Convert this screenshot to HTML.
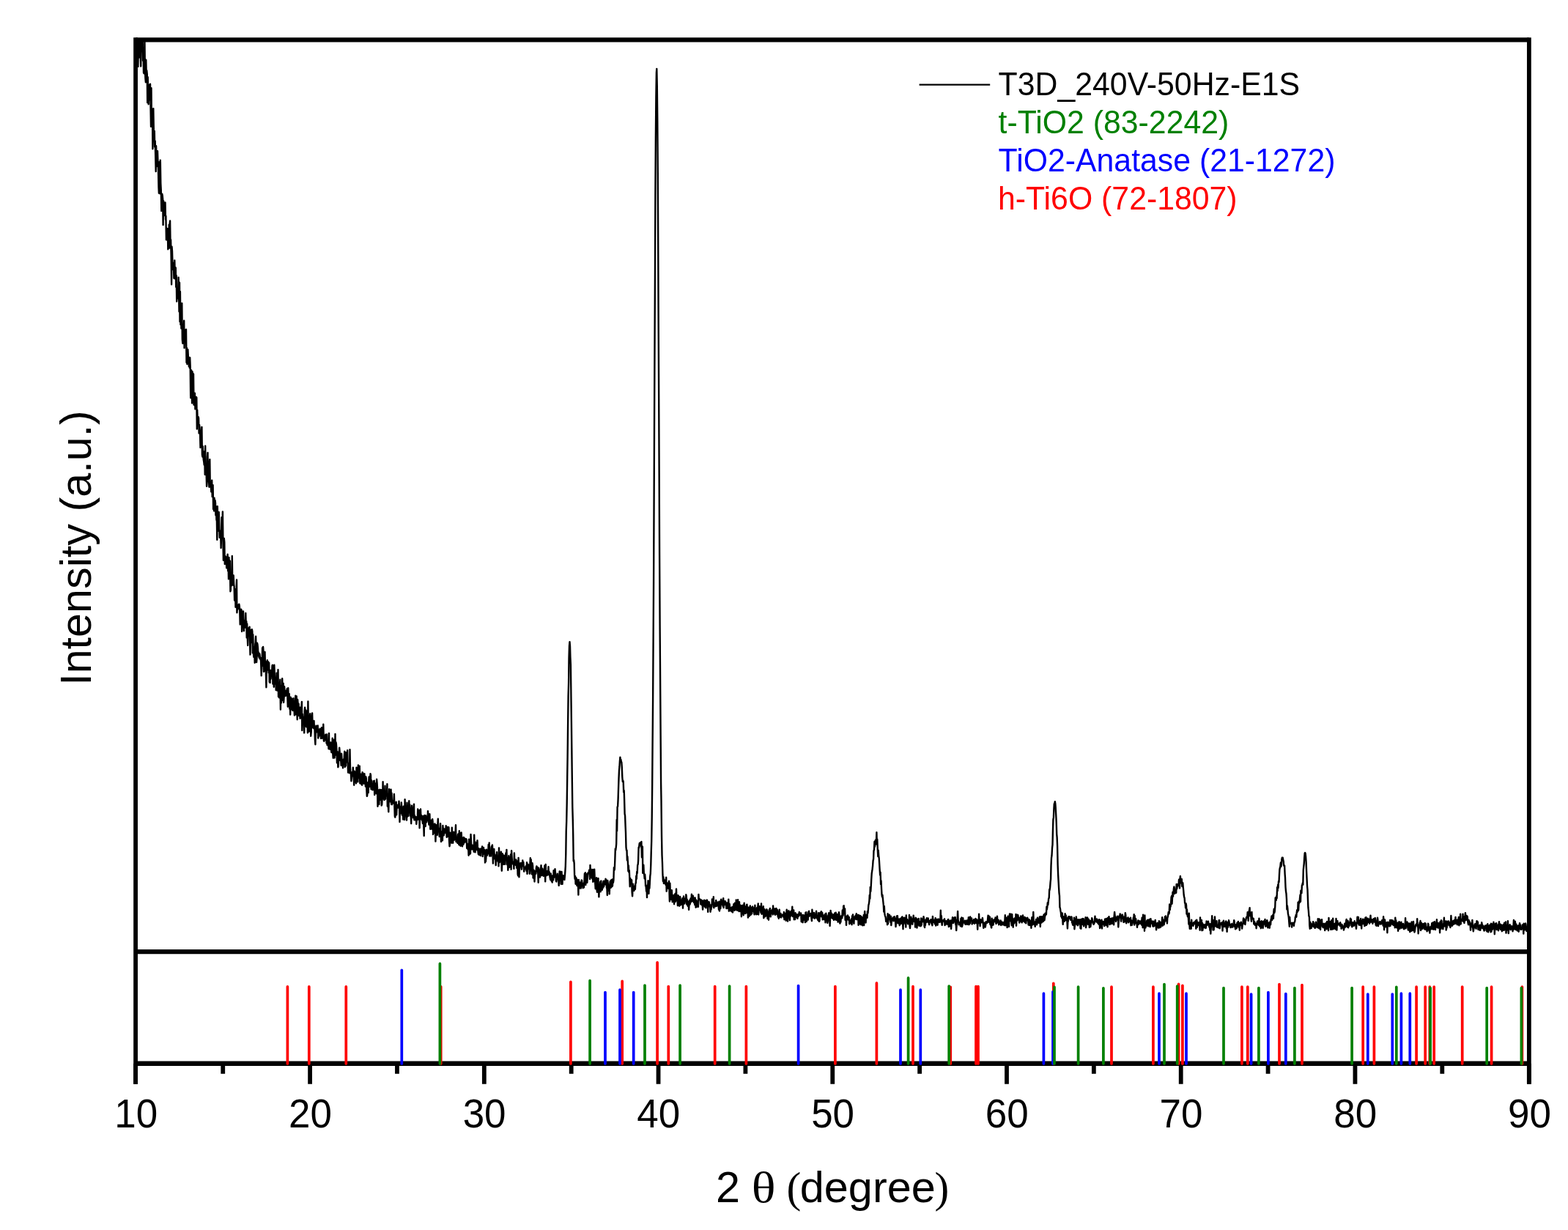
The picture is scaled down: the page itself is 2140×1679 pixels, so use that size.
<!DOCTYPE html>
<html><head><meta charset="utf-8"><title>XRD pattern</title>
<style>
html,body{margin:0;padding:0;background:#fff}
body{width:2140px;height:1679px;overflow:hidden}
svg{display:block}
text{font-family:"Liberation Sans",Arial,Helvetica,sans-serif;fill:#000}
.ser{font-family:"Liberation Serif","Times New Roman",serif}
</style></head><body>
<svg width="2140" height="1679" viewBox="0 0 2140 1679">
<rect width="2140" height="1679" fill="#fff"/>
<defs><clipPath id="cp"><rect x="185.08" y="54.45" width="1901.7800000000002" height="1244.6"/></clipPath></defs>
<g clip-path="url(#cp)"><polyline points="185.1,52.3 185.6,60.0 186.0,50.1 186.5,39.4 187.0,49.9 187.5,40.7 187.9,63.5 188.4,90.9 188.9,55.7 189.4,54.7 189.8,78.6 190.3,77.5 190.8,74.0 191.3,54.8 191.7,74.5 192.2,90.6 192.7,51.4 193.2,70.7 193.6,43.4 194.1,57.4 194.6,48.3 195.1,82.7 195.5,65.0 196.0,99.0 196.5,100.2 197.0,96.7 197.4,53.4 197.9,95.1 198.4,107.0 198.9,112.3 199.3,81.8 199.8,104.4 200.3,96.3 200.8,101.4 201.2,140.0 201.7,105.1 202.2,122.2 202.7,142.2 203.1,115.6 203.6,127.2 204.1,134.1 204.6,136.2 205.0,114.6 205.5,143.8 206.0,172.7 206.5,120.3 207.0,170.9 207.4,160.3 207.9,149.0 208.4,203.3 208.9,182.6 209.3,148.1 209.8,176.1 210.3,189.5 210.8,179.0 211.2,200.6 211.7,192.5 212.2,213.1 212.7,234.0 213.1,199.3 213.6,220.4 214.1,212.0 214.6,227.0 215.0,206.1 215.5,221.1 216.0,231.9 216.5,255.8 216.9,263.8 217.4,221.2 217.9,234.4 218.4,264.3 218.8,218.6 219.3,250.0 219.8,259.9 220.3,287.9 220.7,280.4 221.2,264.6 221.7,266.7 222.2,271.7 222.6,307.0 223.1,274.1 223.6,279.3 224.1,294.1 224.5,288.4 225.0,290.1 225.5,276.5 226.0,299.7 226.4,295.0 226.9,327.3 227.4,321.1 227.9,312.0 228.3,327.5 228.8,312.3 229.3,340.2 229.8,324.0 230.2,337.3 230.7,306.6 231.2,338.5 231.7,305.0 232.1,301.5 232.6,335.0 233.1,327.2 233.6,348.8 234.1,388.3 234.5,336.6 235.0,342.9 235.5,360.2 236.0,367.9 236.4,358.8 236.9,361.1 237.4,379.8 237.9,379.5 238.3,355.5 238.8,375.4 239.3,380.8 239.8,365.4 240.2,391.8 240.7,376.1 241.2,411.5 241.7,401.7 242.1,403.7 242.6,395.6 243.1,407.3 243.6,378.6 244.0,396.7 244.5,425.2 245.0,385.8 245.5,439.1 245.9,397.9 246.4,442.9 246.9,418.3 247.4,448.2 247.8,439.6 248.3,414.0 248.8,463.1 249.3,468.7 249.7,445.7 250.2,444.6 250.7,449.0 251.2,437.8 251.6,474.9 252.1,450.2 252.6,461.1 253.1,451.6 253.5,457.3 254.0,449.6 254.5,494.8 255.0,475.0 255.4,497.0 255.9,485.1 256.4,477.3 256.9,487.1 257.3,487.1 257.8,500.1 258.3,497.5 258.8,502.2 259.2,488.1 259.7,500.5 260.2,543.0 260.7,508.6 261.2,505.4 261.6,530.5 262.1,550.3 262.6,507.4 263.1,529.8 263.5,525.8 264.0,510.5 264.5,552.6 265.0,543.2 265.4,547.2 265.9,536.8 266.4,558.4 266.9,545.4 267.3,554.3 267.8,541.9 268.3,542.9 268.8,585.5 269.2,559.6 269.7,574.8 270.2,572.6 270.7,569.1 271.1,571.0 271.6,591.4 272.1,579.9 272.6,585.0 273.0,590.5 273.5,610.9 274.0,606.1 274.5,604.3 274.9,592.6 275.4,582.9 275.9,620.8 276.4,623.5 276.8,609.3 277.3,621.9 277.8,627.9 278.3,630.9 278.7,634.5 279.2,616.1 279.7,647.7 280.2,608.7 280.6,642.3 281.1,639.0 281.6,646.8 282.1,663.9 282.5,660.2 283.0,623.6 283.5,617.9 284.0,657.2 284.4,632.7 284.9,649.8 285.4,664.8 285.9,631.2 286.3,627.1 286.8,664.6 287.3,664.6 287.8,663.8 288.3,671.3 288.7,661.7 289.2,655.6 289.7,678.0 290.2,669.3 290.6,662.2 291.1,695.0 291.6,689.0 292.1,697.5 292.5,679.6 293.0,686.0 293.5,682.9 294.0,686.3 294.4,703.3 294.9,691.4 295.4,709.4 295.9,711.2 296.3,736.8 296.8,691.1 297.3,725.0 297.8,713.6 298.2,716.8 298.7,699.0 299.2,714.9 299.7,733.8 300.1,724.5 300.6,729.0 301.1,726.0 301.6,748.0 302.0,734.0 302.5,706.3 303.0,729.1 303.5,713.7 303.9,698.4 304.4,737.4 304.9,764.7 305.4,749.4 305.8,734.9 306.3,740.1 306.8,770.0 307.3,758.9 307.7,759.4 308.2,760.1 308.7,763.3 309.2,775.4 309.6,774.0 310.1,771.4 310.6,756.6 311.1,779.1 311.5,765.1 312.0,790.4 312.5,761.0 313.0,777.7 313.5,781.1 313.9,765.6 314.4,807.2 314.9,805.4 315.4,781.9 315.8,799.7 316.3,796.2 316.8,759.0 317.3,797.7 317.7,795.3 318.2,798.8 318.7,785.5 319.2,797.5 319.6,800.3 320.1,819.5 320.6,810.2 321.1,807.5 321.5,828.8 322.0,804.0 322.5,807.8 323.0,791.5 323.4,836.3 323.9,830.5 324.4,831.8 324.9,830.6 325.3,825.4 325.8,828.7 326.3,824.7 326.8,827.3 327.2,832.4 327.7,852.4 328.2,842.3 328.7,836.5 329.1,831.8 329.6,832.8 330.1,862.0 330.6,850.0 331.0,846.1 331.5,842.4 332.0,834.4 332.5,848.4 332.9,861.2 333.4,847.0 333.9,850.2 334.4,851.4 334.8,856.6 335.3,837.0 335.8,854.6 336.3,848.2 336.7,870.4 337.2,851.4 337.7,868.7 338.2,881.1 338.6,860.0 339.1,857.5 339.6,868.0 340.1,866.6 340.6,855.7 341.0,874.1 341.5,893.6 342.0,867.3 342.5,868.9 342.9,859.8 343.4,877.0 343.9,859.3 344.4,861.9 344.8,891.2 345.3,866.2 345.8,890.7 346.3,896.9 346.7,882.9 347.2,887.3 347.7,904.8 348.2,880.4 348.6,876.7 349.1,868.8 349.6,886.2 350.1,904.1 350.5,899.0 351.0,877.7 351.5,879.8 352.0,884.9 352.4,895.2 352.9,890.5 353.4,896.4 353.9,898.3 354.3,892.4 354.8,896.4 355.3,900.2 355.8,897.8 356.2,905.6 356.7,922.4 357.2,908.5 357.7,903.3 358.1,884.1 358.6,908.9 359.1,883.0 359.6,890.0 360.0,916.8 360.5,916.0 361.0,907.0 361.5,889.9 361.9,906.0 362.4,903.3 362.9,919.0 363.4,938.2 363.8,915.6 364.3,905.0 364.8,901.3 365.3,914.6 365.7,913.9 366.2,903.5 366.7,918.5 367.2,904.8 367.7,931.0 368.1,931.1 368.6,931.9 369.1,915.0 369.6,926.7 370.0,920.1 370.5,917.8 371.0,919.0 371.5,908.8 371.9,907.8 372.4,933.5 372.9,923.1 373.4,928.3 373.8,937.8 374.3,907.8 374.8,919.1 375.3,930.5 375.7,933.6 376.2,925.7 376.7,942.1 377.2,933.7 377.6,918.6 378.1,922.5 378.6,942.6 379.1,939.5 379.5,914.2 380.0,950.9 380.5,943.4 381.0,952.4 381.4,934.2 381.9,935.9 382.4,927.6 382.9,968.6 383.3,939.6 383.8,959.6 384.3,935.9 384.8,945.5 385.2,926.2 385.7,940.9 386.2,956.5 386.7,932.9 387.1,958.9 387.6,951.6 388.1,937.2 388.6,943.8 389.0,944.9 389.5,950.1 390.0,945.5 390.5,943.0 390.9,949.3 391.4,942.1 391.9,940.0 392.4,954.0 392.8,964.7 393.3,939.3 393.8,956.4 394.3,950.1 394.8,947.2 395.2,967.4 395.7,953.3 396.2,975.5 396.7,951.7 397.1,964.8 397.6,958.8 398.1,953.8 398.6,968.7 399.0,961.3 399.5,970.0 400.0,963.6 400.5,953.1 400.9,964.1 401.4,966.3 401.9,976.5 402.4,957.3 402.8,967.0 403.3,949.7 403.8,975.3 404.3,957.6 404.7,950.4 405.2,969.4 405.7,982.2 406.2,955.0 406.6,960.1 407.1,964.3 407.6,960.7 408.1,977.1 408.5,965.1 409.0,966.5 409.5,980.7 410.0,967.2 410.4,980.1 410.9,966.0 411.4,964.0 411.9,958.0 412.3,997.0 412.8,974.8 413.3,981.2 413.8,978.8 414.2,981.3 414.7,980.7 415.2,1000.4 415.7,970.4 416.1,965.6 416.6,971.7 417.1,968.9 417.6,991.0 418.0,992.2 418.5,974.4 419.0,970.5 419.5,981.7 419.9,1000.2 420.4,957.4 420.9,992.3 421.4,976.4 421.9,998.6 422.3,977.4 422.8,986.1 423.3,974.1 423.8,980.1 424.2,1004.7 424.7,999.5 425.2,987.5 425.7,983.3 426.1,973.4 426.6,989.2 427.1,993.4 427.6,993.4 428.0,993.8 428.5,983.9 429.0,995.1 429.5,995.9 429.9,1009.9 430.4,1016.2 430.9,996.5 431.4,990.7 431.8,998.3 432.3,993.3 432.8,992.5 433.3,999.9 433.7,990.5 434.2,1007.6 434.7,1001.0 435.2,1005.1 435.6,1001.3 436.1,996.3 436.6,994.7 437.1,1002.3 437.5,999.7 438.0,1008.0 438.5,1006.1 439.0,993.1 439.4,1007.9 439.9,994.4 440.4,1002.1 440.9,1005.8 441.3,988.7 441.8,1010.7 442.3,1011.8 442.8,1009.2 443.2,1007.1 443.7,1008.1 444.2,1002.7 444.7,1010.1 445.1,1007.9 445.6,1014.7 446.1,1002.5 446.6,1017.1 447.1,1016.7 447.5,1014.4 448.0,1012.0 448.5,1022.2 449.0,1001.0 449.4,1022.3 449.9,1020.7 450.4,1021.6 450.9,1023.0 451.3,1013.5 451.8,1017.8 452.3,1027.0 452.8,1025.5 453.2,1023.8 453.7,1007.7 454.2,1028.0 454.7,1034.7 455.1,1033.6 455.6,1026.6 456.1,1009.8 456.6,1034.5 457.0,1024.5 457.5,1002.0 458.0,1030.5 458.5,1013.1 458.9,1015.5 459.4,1022.4 459.9,1041.2 460.4,1025.9 460.8,1032.6 461.3,1047.3 461.8,1046.3 462.3,1030.7 462.7,1029.9 463.2,1020.7 463.7,1026.7 464.2,1037.9 464.6,1038.1 465.1,1036.0 465.6,1044.9 466.1,1028.7 466.5,1036.1 467.0,1044.1 467.5,1043.2 468.0,1048.4 468.4,1042.6 468.9,1036.5 469.4,1043.3 469.9,1031.1 470.3,1025.6 470.8,1047.0 471.3,1041.6 471.8,1045.5 472.2,1027.3 472.7,1040.3 473.2,1038.6 473.7,1036.7 474.2,1024.3 474.6,1042.7 475.1,1054.6 475.6,1050.3 476.1,1041.7 476.5,1047.6 477.0,1055.2 477.5,1023.2 478.0,1048.0 478.4,1054.6 478.9,1056.4 479.4,1066.2 479.9,1061.4 480.3,1054.2 480.8,1054.5 481.3,1059.4 481.8,1047.6 482.2,1052.6 482.7,1061.7 483.2,1071.7 483.7,1052.7 484.1,1054.1 484.6,1056.7 485.1,1067.5 485.6,1055.4 486.0,1069.4 486.5,1047.6 487.0,1055.1 487.5,1055.3 487.9,1064.6 488.4,1067.3 488.9,1044.5 489.4,1050.2 489.8,1061.9 490.3,1053.2 490.8,1045.8 491.3,1069.3 491.7,1064.7 492.2,1065.0 492.7,1056.6 493.2,1070.5 493.6,1059.4 494.1,1071.8 494.6,1054.1 495.1,1054.9 495.5,1064.8 496.0,1057.0 496.5,1069.7 497.0,1066.4 497.4,1056.1 497.9,1065.4 498.4,1061.9 498.9,1073.6 499.3,1060.2 499.8,1062.3 500.3,1077.4 500.8,1086.9 501.3,1085.1 501.7,1068.2 502.2,1070.0 502.7,1082.1 503.2,1067.7 503.6,1060.5 504.1,1070.6 504.6,1073.9 505.1,1062.9 505.5,1056.1 506.0,1058.3 506.5,1077.3 507.0,1065.1 507.4,1070.9 507.9,1074.4 508.4,1078.4 508.9,1070.4 509.3,1078.1 509.8,1066.2 510.3,1071.3 510.8,1065.8 511.2,1085.1 511.7,1075.3 512.2,1069.5 512.7,1073.3 513.1,1074.8 513.6,1083.2 514.1,1063.6 514.6,1068.8 515.0,1075.0 515.5,1100.7 516.0,1087.3 516.5,1078.5 516.9,1086.0 517.4,1098.0 517.9,1078.6 518.4,1077.8 518.8,1091.8 519.3,1086.0 519.8,1087.9 520.3,1078.2 520.7,1099.5 521.2,1098.1 521.7,1088.6 522.2,1090.0 522.6,1067.1 523.1,1090.4 523.6,1083.7 524.1,1089.5 524.5,1092.1 525.0,1083.7 525.5,1072.7 526.0,1090.7 526.4,1081.6 526.9,1085.6 527.4,1083.7 527.9,1086.4 528.4,1070.1 528.8,1100.5 529.3,1092.7 529.8,1100.4 530.3,1108.2 530.7,1092.1 531.2,1077.1 531.7,1085.2 532.2,1083.0 532.6,1089.4 533.1,1094.7 533.6,1077.7 534.1,1097.8 534.5,1082.6 535.0,1098.2 535.5,1095.2 536.0,1093.9 536.4,1096.3 536.9,1092.8 537.4,1092.6 537.9,1084.0 538.3,1098.2 538.8,1114.1 539.3,1115.6 539.8,1110.5 540.2,1105.7 540.7,1094.6 541.2,1112.4 541.7,1100.3 542.1,1100.5 542.6,1099.0 543.1,1102.5 543.6,1098.4 544.0,1101.6 544.5,1093.7 545.0,1099.8 545.5,1122.0 545.9,1102.9 546.4,1101.8 546.9,1108.4 547.4,1110.1 547.8,1095.4 548.3,1103.1 548.8,1112.6 549.3,1107.5 549.7,1106.6 550.2,1118.6 550.7,1100.6 551.2,1107.0 551.6,1102.4 552.1,1119.0 552.6,1091.2 553.1,1101.9 553.5,1103.3 554.0,1113.2 554.5,1113.0 555.0,1119.6 555.5,1095.8 555.9,1114.9 556.4,1106.7 556.9,1103.9 557.4,1113.9 557.8,1102.3 558.3,1093.2 558.8,1107.2 559.3,1098.4 559.7,1105.5 560.2,1114.0 560.7,1113.7 561.2,1124.3 561.6,1110.1 562.1,1099.6 562.6,1106.1 563.1,1105.1 563.5,1102.9 564.0,1116.4 564.5,1108.0 565.0,1097.6 565.4,1119.3 565.9,1113.0 566.4,1117.0 566.9,1115.2 567.3,1119.7 567.8,1115.2 568.3,1125.0 568.8,1118.7 569.2,1118.7 569.7,1119.1 570.2,1104.4 570.7,1115.0 571.1,1114.5 571.6,1118.4 572.1,1106.2 572.6,1130.3 573.0,1118.4 573.5,1108.2 574.0,1104.5 574.5,1116.1 574.9,1117.8 575.4,1113.1 575.9,1119.8 576.4,1114.3 576.8,1124.0 577.3,1114.2 577.8,1119.9 578.3,1128.1 578.7,1141.0 579.2,1113.0 579.7,1117.6 580.2,1114.9 580.7,1128.0 581.1,1113.1 581.6,1118.6 582.1,1122.4 582.6,1115.3 583.0,1115.7 583.5,1119.8 584.0,1107.3 584.5,1112.7 584.9,1121.1 585.4,1125.7 585.9,1123.4 586.4,1111.3 586.8,1121.8 587.3,1131.9 587.8,1130.3 588.3,1125.6 588.7,1119.6 589.2,1131.6 589.7,1122.5 590.2,1118.2 590.6,1121.3 591.1,1139.0 591.6,1129.8 592.1,1137.3 592.5,1124.9 593.0,1136.0 593.5,1124.4 594.0,1128.1 594.4,1148.6 594.9,1135.7 595.4,1126.1 595.9,1129.6 596.3,1132.9 596.8,1139.9 597.3,1127.1 597.8,1117.8 598.2,1129.2 598.7,1131.7 599.2,1132.6 599.7,1142.0 600.1,1134.6 600.6,1138.6 601.1,1124.2 601.6,1139.4 602.0,1149.0 602.5,1139.1 603.0,1135.3 603.5,1134.8 603.9,1147.4 604.4,1127.0 604.9,1133.4 605.4,1137.9 605.8,1140.3 606.3,1131.5 606.8,1137.4 607.3,1133.1 607.8,1136.3 608.2,1134.6 608.7,1127.2 609.2,1135.9 609.7,1142.9 610.1,1129.1 610.6,1134.8 611.1,1141.9 611.6,1129.0 612.0,1138.6 612.5,1129.5 613.0,1146.2 613.5,1155.3 613.9,1153.3 614.4,1136.7 614.9,1144.1 615.4,1139.7 615.8,1139.8 616.3,1150.8 616.8,1129.6 617.3,1147.6 617.7,1139.6 618.2,1150.7 618.7,1141.8 619.2,1135.6 619.6,1142.9 620.1,1146.6 620.6,1141.6 621.1,1145.2 621.5,1137.9 622.0,1126.2 622.5,1149.0 623.0,1147.7 623.4,1143.9 623.9,1143.5 624.4,1150.9 624.9,1140.1 625.3,1138.5 625.8,1142.6 626.3,1153.0 626.8,1134.2 627.2,1153.5 627.7,1140.2 628.2,1137.1 628.7,1154.7 629.1,1145.0 629.6,1136.4 630.1,1143.6 630.6,1153.3 631.0,1155.4 631.5,1143.8 632.0,1150.2 632.5,1152.6 632.9,1143.0 633.4,1150.5 633.9,1148.0 634.4,1144.5 634.9,1145.1 635.3,1149.4 635.8,1149.4 636.3,1145.3 636.8,1146.6 637.2,1158.0 637.7,1151.8 638.2,1156.9 638.7,1159.4 639.1,1155.3 639.6,1167.7 640.1,1145.6 640.6,1157.6 641.0,1149.8 641.5,1165.7 642.0,1164.9 642.5,1138.9 642.9,1146.2 643.4,1158.2 643.9,1159.4 644.4,1159.3 644.8,1153.8 645.3,1157.8 645.8,1159.5 646.3,1154.6 646.7,1162.8 647.2,1139.6 647.7,1160.5 648.2,1148.9 648.6,1163.4 649.1,1155.2 649.6,1150.8 650.1,1160.1 650.5,1151.2 651.0,1151.5 651.5,1147.2 652.0,1158.3 652.4,1162.3 652.9,1166.2 653.4,1158.3 653.9,1166.9 654.3,1159.9 654.8,1159.4 655.3,1164.3 655.8,1168.0 656.2,1158.4 656.7,1159.3 657.2,1160.2 657.7,1162.1 658.1,1155.5 658.6,1169.1 659.1,1159.4 659.6,1165.6 660.0,1156.9 660.5,1165.3 661.0,1165.8 661.5,1160.3 662.0,1177.5 662.4,1166.2 662.9,1176.2 663.4,1170.7 663.9,1159.7 664.3,1161.8 664.8,1167.7 665.3,1165.3 665.8,1165.4 666.2,1163.2 666.7,1152.9 667.2,1164.0 667.7,1150.5 668.1,1168.5 668.6,1161.1 669.1,1161.4 669.6,1165.0 670.0,1168.6 670.5,1157.0 671.0,1155.1 671.5,1159.9 671.9,1153.4 672.4,1161.0 672.9,1178.6 673.4,1160.7 673.8,1172.6 674.3,1158.9 674.8,1170.5 675.3,1166.5 675.7,1168.4 676.2,1172.9 676.7,1181.1 677.2,1170.7 677.6,1170.4 678.1,1163.1 678.6,1173.8 679.1,1168.4 679.5,1175.9 680.0,1170.1 680.5,1182.4 681.0,1157.4 681.4,1169.0 681.9,1177.1 682.4,1169.0 682.9,1166.2 683.3,1169.9 683.8,1162.6 684.3,1172.9 684.8,1188.7 685.2,1180.1 685.7,1165.2 686.2,1166.9 686.7,1170.3 687.1,1179.9 687.6,1167.8 688.1,1168.9 688.6,1179.6 689.1,1179.7 689.5,1171.6 690.0,1166.8 690.5,1164.1 691.0,1169.9 691.4,1159.9 691.9,1180.0 692.4,1171.0 692.9,1178.5 693.3,1187.9 693.8,1183.5 694.3,1168.2 694.8,1181.8 695.2,1183.9 695.7,1171.4 696.2,1170.2 696.7,1176.0 697.1,1166.3 697.6,1186.8 698.1,1161.3 698.6,1170.1 699.0,1175.8 699.5,1176.3 700.0,1179.0 700.5,1179.9 700.9,1176.9 701.4,1185.9 701.9,1164.5 702.4,1178.8 702.8,1174.2 703.3,1180.0 703.8,1180.7 704.3,1173.4 704.7,1175.4 705.2,1184.9 705.7,1182.2 706.2,1175.6 706.6,1193.5 707.1,1195.4 707.6,1171.0 708.1,1182.6 708.5,1197.2 709.0,1186.1 709.5,1182.6 710.0,1179.9 710.4,1177.9 710.9,1180.2 711.4,1178.1 711.9,1186.7 712.3,1179.4 712.8,1179.3 713.3,1174.5 713.8,1182.1 714.3,1176.8 714.7,1181.6 715.2,1189.7 715.7,1185.4 716.2,1186.5 716.6,1185.7 717.1,1183.9 717.6,1182.9 718.1,1181.9 718.5,1188.9 719.0,1177.2 719.5,1192.9 720.0,1184.7 720.4,1179.8 720.9,1181.6 721.4,1180.6 721.9,1186.1 722.3,1180.7 722.8,1192.8 723.3,1180.6 723.8,1171.2 724.2,1181.3 724.7,1173.3 725.2,1186.0 725.7,1193.2 726.1,1190.8 726.6,1178.3 727.1,1182.1 727.6,1198.5 728.0,1189.4 728.5,1187.6 729.0,1194.4 729.5,1203.5 729.9,1196.3 730.4,1189.2 730.9,1190.7 731.4,1192.6 731.8,1185.0 732.3,1182.4 732.8,1189.6 733.3,1183.5 733.7,1189.2 734.2,1190.4 734.7,1204.7 735.2,1184.8 735.6,1189.6 736.1,1189.5 736.6,1193.5 737.1,1197.5 737.5,1188.0 738.0,1186.1 738.5,1181.2 739.0,1185.8 739.4,1195.1 739.9,1192.3 740.4,1185.8 740.9,1190.0 741.4,1192.7 741.8,1195.8 742.3,1189.1 742.8,1191.4 743.3,1181.8 743.7,1186.1 744.2,1203.4 744.7,1180.0 745.2,1191.6 745.6,1195.2 746.1,1191.7 746.6,1189.1 747.1,1193.9 747.5,1194.4 748.0,1194.0 748.5,1183.1 749.0,1193.9 749.4,1189.6 749.9,1191.7 750.4,1196.6 750.9,1199.2 751.3,1200.9 751.8,1192.5 752.3,1201.3 752.8,1203.0 753.2,1202.9 753.7,1204.5 754.2,1195.2 754.7,1195.2 755.1,1201.4 755.6,1188.1 756.1,1197.9 756.6,1193.5 757.0,1194.6 757.5,1186.3 758.0,1191.6 758.5,1197.1 758.9,1202.7 759.4,1203.4 759.9,1197.0 760.4,1196.5 760.8,1192.7 761.3,1200.3 761.8,1196.5 762.3,1201.8 762.7,1208.9 763.2,1198.1 763.7,1189.4 764.2,1193.3 764.6,1189.8 765.1,1191.5 765.6,1206.8 766.1,1200.4 766.5,1189.9 767.0,1203.2 767.5,1206.9 768.0,1197.1 768.5,1195.0 768.9,1196.6 769.4,1199.5 769.9,1200.2 770.4,1200.9 770.8,1197.0 771.3,1190.6 771.8,1182.5 772.3,1165.4 772.7,1134.9 773.2,1121.2 773.7,1096.6 774.2,1060.7 774.6,1033.3 775.1,988.9 775.6,949.7 776.1,931.7 776.5,898.3 777.0,881.3 777.5,876.2 778.0,881.8 778.4,897.1 778.9,907.3 779.4,950.0 779.9,987.2 780.3,1021.1 780.8,1063.7 781.3,1101.9 781.8,1119.7 782.2,1138.6 782.7,1175.2 783.2,1173.9 783.7,1178.9 784.1,1194.3 784.6,1199.9 785.1,1196.0 785.6,1206.7 786.0,1200.2 786.5,1198.3 787.0,1205.2 787.5,1209.0 787.9,1200.9 788.4,1206.7 788.9,1204.3 789.4,1221.6 789.8,1200.9 790.3,1213.3 790.8,1204.9 791.3,1204.4 791.7,1209.4 792.2,1210.4 792.7,1212.6 793.2,1207.0 793.6,1201.4 794.1,1201.7 794.6,1207.6 795.1,1207.7 795.6,1212.2 796.0,1206.0 796.5,1209.3 797.0,1211.4 797.5,1202.9 797.9,1192.5 798.4,1193.5 798.9,1191.1 799.4,1207.9 799.8,1192.7 800.3,1203.9 800.8,1199.2 801.3,1204.8 801.7,1199.7 802.2,1192.5 802.7,1191.2 803.2,1192.2 803.6,1192.2 804.1,1187.8 804.6,1190.5 805.1,1200.1 805.5,1181.0 806.0,1192.7 806.5,1186.5 807.0,1193.5 807.4,1198.1 807.9,1193.8 808.4,1199.6 808.9,1186.9 809.3,1203.7 809.8,1194.9 810.3,1203.1 810.8,1201.6 811.2,1186.6 811.7,1198.2 812.2,1204.7 812.7,1213.3 813.1,1206.7 813.6,1207.2 814.1,1198.2 814.6,1215.1 815.0,1217.8 815.5,1207.9 816.0,1206.8 816.5,1199.0 816.9,1213.7 817.4,1224.4 817.9,1213.1 818.4,1216.4 818.8,1212.4 819.3,1203.7 819.8,1217.2 820.3,1202.4 820.7,1208.4 821.2,1211.3 821.7,1214.9 822.2,1212.2 822.7,1212.1 823.1,1205.6 823.6,1202.6 824.1,1210.4 824.6,1206.0 825.0,1202.6 825.5,1202.9 826.0,1207.4 826.5,1199.7 826.9,1202.6 827.4,1201.0 827.9,1211.5 828.4,1212.8 828.8,1222.0 829.3,1202.0 829.8,1206.7 830.3,1215.8 830.7,1209.4 831.2,1208.7 831.7,1220.4 832.2,1208.5 832.6,1203.7 833.1,1202.6 833.6,1211.8 834.1,1211.2 834.5,1201.0 835.0,1202.4 835.5,1210.0 836.0,1208.8 836.4,1199.9 836.9,1204.8 837.4,1201.5 837.9,1184.3 838.3,1188.1 838.8,1186.9 839.3,1174.8 839.8,1158.5 840.2,1160.7 840.7,1157.2 841.2,1151.6 841.7,1118.9 842.1,1134.6 842.6,1101.2 843.1,1100.9 843.6,1090.6 844.0,1077.8 844.5,1062.7 845.0,1051.5 845.5,1046.2 845.9,1039.1 846.4,1033.7 846.9,1038.7 847.4,1036.9 847.9,1040.2 848.3,1040.4 848.8,1047.6 849.3,1060.6 849.8,1067.0 850.2,1065.5 850.7,1066.9 851.2,1081.4 851.7,1078.9 852.1,1091.1 852.6,1110.7 853.1,1113.8 853.6,1127.5 854.0,1136.6 854.5,1156.6 855.0,1160.8 855.5,1160.5 855.9,1174.4 856.4,1169.2 856.9,1177.3 857.4,1189.3 857.8,1181.4 858.3,1190.8 858.8,1188.2 859.3,1199.3 859.7,1210.3 860.2,1198.8 860.7,1206.1 861.2,1201.2 861.6,1200.9 862.1,1201.4 862.6,1217.6 863.1,1223.4 863.5,1213.2 864.0,1206.7 864.5,1215.1 865.0,1209.4 865.4,1215.9 865.9,1212.9 866.4,1212.5 866.9,1213.8 867.3,1206.0 867.8,1205.4 868.3,1195.6 868.8,1199.7 869.2,1189.9 869.7,1191.9 870.2,1181.0 870.7,1180.0 871.1,1174.6 871.6,1156.7 872.1,1157.3 872.6,1152.0 873.0,1150.6 873.5,1150.7 874.0,1150.4 874.5,1150.8 875.0,1155.5 875.4,1148.9 875.9,1170.2 876.4,1162.8 876.9,1155.8 877.3,1191.7 877.8,1190.7 878.3,1180.8 878.8,1192.1 879.2,1194.0 879.7,1199.4 880.2,1193.6 880.7,1200.7 881.1,1209.4 881.6,1209.8 882.1,1216.7 882.6,1211.5 883.0,1225.1 883.5,1208.4 884.0,1214.3 884.5,1202.2 884.9,1205.8 885.4,1219.9 885.9,1206.1 886.4,1212.6 886.8,1206.2 887.3,1195.9 887.8,1192.3 888.3,1180.2 888.7,1164.1 889.2,1148.3 889.7,1116.8 890.2,1069.0 890.6,1014.9 891.1,956.9 891.6,877.3 892.1,794.1 892.5,703.6 893.0,587.1 893.5,473.6 894.0,367.4 894.4,267.7 894.9,187.2 895.4,132.2 895.9,99.4 896.3,93.9 896.8,118.3 897.3,166.8 897.8,239.0 898.2,324.2 898.7,442.6 899.2,544.6 899.7,659.6 900.1,756.8 900.6,854.2 901.1,926.8 901.6,1001.5 902.1,1069.0 902.5,1092.2 903.0,1139.4 903.5,1167.3 904.0,1178.2 904.4,1192.2 904.9,1203.0 905.4,1197.3 905.9,1206.0 906.3,1200.4 906.8,1202.1 907.3,1202.5 907.8,1205.0 908.2,1206.4 908.7,1208.0 909.2,1197.7 909.7,1216.6 910.1,1212.4 910.6,1210.6 911.1,1205.4 911.6,1207.9 912.0,1212.4 912.5,1212.9 913.0,1202.7 913.5,1217.3 913.9,1230.5 914.4,1205.8 914.9,1222.6 915.4,1220.4 915.8,1218.9 916.3,1228.1 916.8,1215.1 917.3,1223.3 917.7,1231.2 918.2,1222.9 918.7,1222.3 919.2,1225.7 919.6,1223.1 920.1,1234.3 920.6,1221.3 921.1,1231.2 921.5,1220.0 922.0,1230.6 922.5,1226.6 923.0,1213.5 923.4,1227.5 923.9,1222.0 924.4,1225.4 924.9,1236.2 925.3,1222.1 925.8,1222.5 926.3,1236.0 926.8,1229.0 927.2,1236.7 927.7,1230.3 928.2,1224.0 928.7,1228.4 929.2,1235.4 929.6,1234.0 930.1,1229.0 930.6,1229.4 931.1,1228.6 931.5,1226.2 932.0,1239.7 932.5,1229.5 933.0,1223.5 933.4,1227.1 933.9,1233.6 934.4,1233.2 934.9,1229.1 935.3,1226.4 935.8,1230.1 936.3,1221.2 936.8,1223.3 937.2,1234.5 937.7,1227.8 938.2,1232.4 938.7,1236.9 939.1,1233.9 939.6,1230.7 940.1,1241.9 940.6,1234.2 941.0,1228.9 941.5,1234.7 942.0,1233.1 942.5,1226.5 942.9,1231.4 943.4,1230.2 943.9,1220.8 944.4,1230.3 944.8,1229.8 945.3,1229.1 945.8,1222.8 946.3,1229.6 946.7,1231.3 947.2,1232.2 947.7,1225.7 948.2,1235.1 948.6,1225.4 949.1,1230.7 949.6,1238.8 950.1,1228.4 950.5,1229.4 951.0,1237.8 951.5,1230.2 952.0,1230.7 952.4,1233.5 952.9,1237.9 953.4,1220.9 953.9,1228.2 954.4,1227.3 954.8,1227.0 955.3,1228.2 955.8,1228.4 956.3,1234.4 956.7,1228.2 957.2,1233.5 957.7,1235.1 958.2,1229.2 958.6,1233.8 959.1,1241.6 959.6,1234.9 960.1,1229.9 960.5,1233.0 961.0,1228.6 961.5,1234.8 962.0,1237.9 962.4,1229.3 962.9,1232.5 963.4,1239.4 963.9,1231.1 964.3,1234.7 964.8,1228.5 965.3,1229.6 965.8,1231.3 966.2,1244.9 966.7,1231.9 967.2,1231.4 967.7,1231.3 968.1,1233.3 968.6,1237.5 969.1,1235.2 969.6,1244.7 970.0,1235.5 970.5,1241.7 971.0,1235.9 971.5,1237.6 971.9,1227.4 972.4,1234.0 972.9,1234.4 973.4,1233.6 973.8,1224.1 974.3,1239.3 974.8,1233.0 975.3,1232.8 975.7,1233.8 976.2,1234.0 976.7,1237.3 977.2,1228.9 977.6,1230.7 978.1,1236.9 978.6,1236.2 979.1,1233.7 979.5,1232.7 980.0,1231.5 980.5,1235.4 981.0,1241.7 981.5,1230.6 981.9,1243.5 982.4,1240.2 982.9,1233.8 983.4,1240.0 983.8,1228.9 984.3,1227.7 984.8,1229.9 985.3,1234.3 985.7,1234.8 986.2,1234.0 986.7,1237.1 987.2,1226.1 987.6,1239.1 988.1,1229.8 988.6,1233.6 989.1,1234.9 989.5,1231.3 990.0,1230.3 990.5,1232.1 991.0,1237.1 991.4,1240.1 991.9,1240.1 992.4,1232.5 992.9,1233.6 993.3,1233.0 993.8,1239.8 994.3,1227.6 994.8,1243.8 995.2,1235.4 995.7,1234.0 996.2,1239.6 996.7,1243.1 997.1,1239.8 997.6,1243.3 998.1,1238.9 998.6,1244.3 999.0,1244.4 999.5,1237.9 1000.0,1245.5 1000.5,1239.4 1000.9,1239.1 1001.4,1234.2 1001.9,1237.4 1002.4,1242.7 1002.8,1232.6 1003.3,1242.2 1003.8,1240.8 1004.3,1240.5 1004.7,1228.5 1005.2,1238.8 1005.7,1242.6 1006.2,1235.8 1006.6,1240.0 1007.1,1228.1 1007.6,1243.0 1008.1,1236.6 1008.6,1244.1 1009.0,1231.1 1009.5,1243.4 1010.0,1239.0 1010.5,1244.1 1010.9,1235.8 1011.4,1237.4 1011.9,1251.2 1012.4,1236.5 1012.8,1237.2 1013.3,1239.3 1013.8,1235.8 1014.3,1246.5 1014.7,1249.2 1015.2,1237.6 1015.7,1232.7 1016.2,1246.7 1016.6,1246.5 1017.1,1245.2 1017.6,1246.8 1018.1,1237.2 1018.5,1240.6 1019.0,1234.9 1019.5,1234.8 1020.0,1246.3 1020.4,1238.5 1020.9,1252.6 1021.4,1242.2 1021.9,1238.8 1022.3,1245.8 1022.8,1250.6 1023.3,1244.4 1023.8,1236.4 1024.2,1244.0 1024.7,1248.8 1025.2,1240.0 1025.7,1238.7 1026.1,1247.3 1026.6,1243.2 1027.1,1237.4 1027.6,1240.9 1028.0,1239.2 1028.5,1244.2 1029.0,1243.4 1029.5,1248.4 1029.9,1246.4 1030.4,1235.7 1030.9,1245.0 1031.4,1247.4 1031.8,1245.4 1032.3,1248.2 1032.8,1240.8 1033.3,1238.9 1033.7,1247.9 1034.2,1238.5 1034.7,1233.4 1035.2,1248.5 1035.7,1240.3 1036.1,1242.3 1036.6,1237.3 1037.1,1237.7 1037.6,1238.5 1038.0,1242.3 1038.5,1245.8 1039.0,1233.4 1039.5,1247.7 1039.9,1238.7 1040.4,1239.3 1040.9,1247.5 1041.4,1244.1 1041.8,1237.3 1042.3,1253.2 1042.8,1240.6 1043.3,1245.8 1043.7,1245.6 1044.2,1251.3 1044.7,1242.7 1045.2,1249.6 1045.6,1241.5 1046.1,1250.2 1046.6,1241.5 1047.1,1243.4 1047.5,1254.0 1048.0,1246.7 1048.5,1245.7 1049.0,1255.7 1049.4,1247.0 1049.9,1241.6 1050.4,1248.8 1050.9,1240.0 1051.3,1250.8 1051.8,1251.2 1052.3,1243.0 1052.8,1242.8 1053.2,1246.6 1053.7,1245.8 1054.2,1241.3 1054.7,1248.5 1055.1,1236.5 1055.6,1244.0 1056.1,1244.2 1056.6,1244.8 1057.0,1247.5 1057.5,1240.5 1058.0,1248.9 1058.5,1245.4 1058.9,1243.3 1059.4,1240.0 1059.9,1240.9 1060.4,1248.1 1060.8,1242.0 1061.3,1246.8 1061.8,1251.5 1062.3,1251.4 1062.8,1253.8 1063.2,1245.3 1063.7,1241.8 1064.2,1251.5 1064.7,1248.3 1065.1,1252.0 1065.6,1247.0 1066.1,1252.5 1066.6,1250.9 1067.0,1250.3 1067.5,1249.4 1068.0,1249.0 1068.5,1248.3 1068.9,1248.3 1069.4,1251.8 1069.9,1245.0 1070.4,1255.3 1070.8,1246.9 1071.3,1251.9 1071.8,1247.1 1072.3,1246.4 1072.7,1256.8 1073.2,1246.2 1073.7,1241.8 1074.2,1244.4 1074.6,1246.3 1075.1,1257.6 1075.6,1248.7 1076.1,1252.1 1076.5,1243.3 1077.0,1249.5 1077.5,1251.0 1078.0,1256.2 1078.4,1244.9 1078.9,1250.8 1079.4,1249.5 1079.9,1243.5 1080.3,1248.1 1080.8,1247.0 1081.3,1237.7 1081.8,1251.0 1082.2,1250.8 1082.7,1246.4 1083.2,1242.4 1083.7,1255.2 1084.1,1249.7 1084.6,1253.2 1085.1,1255.0 1085.6,1246.3 1086.0,1252.3 1086.5,1247.6 1087.0,1248.5 1087.5,1248.4 1088.0,1248.8 1088.4,1253.9 1088.9,1249.5 1089.4,1248.2 1089.9,1247.7 1090.3,1250.5 1090.8,1245.0 1091.3,1246.8 1091.8,1248.9 1092.2,1246.6 1092.7,1248.7 1093.2,1246.5 1093.7,1258.3 1094.1,1255.3 1094.6,1251.4 1095.1,1249.1 1095.6,1259.3 1096.0,1250.9 1096.5,1249.1 1097.0,1250.9 1097.5,1250.9 1097.9,1255.9 1098.4,1249.5 1098.9,1259.1 1099.4,1245.7 1099.8,1252.8 1100.3,1245.3 1100.8,1258.0 1101.3,1248.3 1101.7,1249.6 1102.2,1254.0 1102.7,1255.6 1103.2,1245.0 1103.6,1248.4 1104.1,1243.8 1104.6,1250.7 1105.1,1249.6 1105.5,1248.6 1106.0,1247.1 1106.5,1248.5 1107.0,1246.9 1107.4,1252.6 1107.9,1257.1 1108.4,1241.7 1108.9,1249.8 1109.3,1248.5 1109.8,1252.6 1110.3,1246.2 1110.8,1249.8 1111.2,1245.9 1111.7,1253.7 1112.2,1251.0 1112.7,1249.9 1113.1,1252.3 1113.6,1249.6 1114.1,1243.8 1114.6,1253.4 1115.1,1252.1 1115.5,1250.1 1116.0,1255.3 1116.5,1256.3 1117.0,1246.1 1117.4,1247.5 1117.9,1257.9 1118.4,1257.3 1118.9,1247.8 1119.3,1245.9 1119.8,1248.3 1120.3,1249.0 1120.8,1244.2 1121.2,1251.4 1121.7,1245.6 1122.2,1245.9 1122.7,1255.4 1123.1,1248.4 1123.6,1251.1 1124.1,1254.2 1124.6,1255.1 1125.0,1250.0 1125.5,1251.8 1126.0,1247.9 1126.5,1259.4 1126.9,1254.5 1127.4,1246.8 1127.9,1251.8 1128.4,1254.9 1128.8,1253.9 1129.3,1259.9 1129.8,1257.9 1130.3,1249.5 1130.7,1251.6 1131.2,1246.3 1131.7,1253.1 1132.2,1252.7 1132.6,1264.0 1133.1,1252.6 1133.6,1242.9 1134.1,1249.2 1134.5,1252.7 1135.0,1246.7 1135.5,1248.5 1136.0,1250.7 1136.4,1253.9 1136.9,1251.7 1137.4,1248.5 1137.9,1255.9 1138.3,1250.1 1138.8,1250.4 1139.3,1246.5 1139.8,1249.2 1140.2,1255.5 1140.7,1245.6 1141.2,1252.4 1141.7,1255.9 1142.2,1251.1 1142.6,1253.9 1143.1,1248.0 1143.6,1258.6 1144.1,1257.8 1144.5,1254.0 1145.0,1245.3 1145.5,1248.5 1146.0,1257.4 1146.4,1260.6 1146.9,1254.4 1147.4,1258.6 1147.9,1250.5 1148.3,1252.2 1148.8,1252.5 1149.3,1253.2 1149.8,1242.5 1150.2,1250.3 1150.7,1248.9 1151.2,1236.5 1151.7,1236.3 1152.1,1246.3 1152.6,1245.1 1153.1,1240.4 1153.6,1255.9 1154.0,1253.9 1154.5,1251.5 1155.0,1262.9 1155.5,1254.4 1155.9,1250.5 1156.4,1254.3 1156.9,1249.4 1157.4,1250.6 1157.8,1255.6 1158.3,1251.6 1158.8,1252.0 1159.3,1261.3 1159.7,1257.8 1160.2,1257.6 1160.7,1256.4 1161.2,1256.3 1161.6,1260.5 1162.1,1254.1 1162.6,1262.3 1163.1,1250.2 1163.5,1253.2 1164.0,1248.4 1164.5,1252.9 1165.0,1256.6 1165.4,1260.7 1165.9,1251.6 1166.4,1254.5 1166.9,1253.0 1167.3,1251.4 1167.8,1249.5 1168.3,1254.9 1168.8,1247.2 1169.3,1255.2 1169.7,1254.8 1170.2,1251.9 1170.7,1250.4 1171.2,1248.8 1171.6,1262.9 1172.1,1249.1 1172.6,1261.6 1173.1,1257.5 1173.5,1253.4 1174.0,1250.0 1174.5,1259.4 1175.0,1262.4 1175.4,1251.0 1175.9,1253.7 1176.4,1259.4 1176.9,1256.3 1177.3,1263.4 1177.8,1252.2 1178.3,1256.9 1178.8,1249.0 1179.2,1263.1 1179.7,1250.6 1180.2,1243.9 1180.7,1252.2 1181.1,1251.5 1181.6,1259.5 1182.1,1248.9 1182.6,1249.1 1183.0,1250.3 1183.5,1252.9 1184.0,1243.9 1184.5,1246.4 1184.9,1241.6 1185.4,1235.3 1185.9,1233.6 1186.4,1229.8 1186.8,1221.9 1187.3,1226.7 1187.8,1210.9 1188.3,1216.9 1188.7,1210.8 1189.2,1200.9 1189.7,1192.5 1190.2,1189.1 1190.6,1186.4 1191.1,1182.0 1191.6,1174.7 1192.1,1172.6 1192.5,1161.2 1193.0,1160.3 1193.5,1148.9 1194.0,1155.7 1194.4,1150.7 1194.9,1146.7 1195.4,1152.5 1195.9,1150.4 1196.4,1136.2 1196.8,1149.9 1197.3,1145.8 1197.8,1159.5 1198.3,1169.1 1198.7,1160.6 1199.2,1167.8 1199.7,1171.5 1200.2,1179.4 1200.6,1186.2 1201.1,1194.6 1201.6,1190.7 1202.1,1207.2 1202.5,1202.1 1203.0,1212.5 1203.5,1221.3 1204.0,1224.2 1204.4,1221.7 1204.9,1226.7 1205.4,1231.5 1205.9,1236.6 1206.3,1244.7 1206.8,1237.0 1207.3,1246.8 1207.8,1249.5 1208.2,1251.0 1208.7,1252.1 1209.2,1257.9 1209.7,1254.6 1210.1,1257.0 1210.6,1256.5 1211.1,1262.3 1211.6,1247.2 1212.0,1261.1 1212.5,1254.9 1213.0,1255.1 1213.5,1252.4 1213.9,1248.7 1214.4,1255.1 1214.9,1253.9 1215.4,1259.0 1215.8,1250.8 1216.3,1263.1 1216.8,1258.2 1217.3,1256.0 1217.7,1254.1 1218.2,1253.8 1218.7,1252.4 1219.2,1254.9 1219.6,1257.2 1220.1,1256.4 1220.6,1251.2 1221.1,1256.1 1221.6,1253.5 1222.0,1257.9 1222.5,1265.1 1223.0,1259.9 1223.5,1255.9 1223.9,1250.4 1224.4,1251.3 1224.9,1250.2 1225.4,1260.4 1225.8,1254.1 1226.3,1257.6 1226.8,1254.7 1227.3,1257.7 1227.7,1263.2 1228.2,1254.5 1228.7,1255.9 1229.2,1254.0 1229.6,1261.1 1230.1,1253.1 1230.6,1252.6 1231.1,1251.6 1231.5,1251.5 1232.0,1259.4 1232.5,1268.2 1233.0,1253.2 1233.4,1261.4 1233.9,1258.5 1234.4,1252.8 1234.9,1256.3 1235.3,1256.5 1235.8,1254.6 1236.3,1265.6 1236.8,1249.5 1237.2,1259.1 1237.7,1258.9 1238.2,1255.1 1238.7,1258.1 1239.1,1261.2 1239.6,1258.2 1240.1,1259.3 1240.6,1260.5 1241.0,1249.0 1241.5,1263.8 1242.0,1267.1 1242.5,1261.7 1242.9,1261.8 1243.4,1251.7 1243.9,1257.1 1244.4,1254.2 1244.8,1255.1 1245.3,1261.7 1245.8,1254.3 1246.3,1257.1 1246.7,1249.6 1247.2,1257.0 1247.7,1258.0 1248.2,1254.7 1248.7,1254.6 1249.1,1265.6 1249.6,1252.6 1250.1,1253.3 1250.6,1254.3 1251.0,1262.7 1251.5,1266.5 1252.0,1259.1 1252.5,1254.7 1252.9,1255.9 1253.4,1262.2 1253.9,1253.9 1254.4,1263.8 1254.8,1263.7 1255.3,1258.1 1255.8,1260.5 1256.3,1260.9 1256.7,1264.3 1257.2,1253.4 1257.7,1262.7 1258.2,1256.2 1258.6,1254.6 1259.1,1258.2 1259.6,1256.9 1260.1,1253.7 1260.5,1251.1 1261.0,1253.9 1261.5,1263.9 1262.0,1266.1 1262.4,1260.6 1262.9,1262.8 1263.4,1255.7 1263.9,1257.5 1264.3,1259.0 1264.8,1253.3 1265.3,1253.7 1265.8,1258.3 1266.2,1256.5 1266.7,1253.4 1267.2,1259.5 1267.7,1256.8 1268.1,1262.2 1268.6,1257.9 1269.1,1256.7 1269.6,1258.5 1270.0,1257.2 1270.5,1255.1 1271.0,1256.3 1271.5,1261.1 1271.9,1260.7 1272.4,1263.3 1272.9,1250.9 1273.4,1256.3 1273.8,1256.2 1274.3,1258.7 1274.8,1256.1 1275.3,1255.8 1275.8,1261.3 1276.2,1258.7 1276.7,1253.1 1277.2,1263.6 1277.7,1262.2 1278.1,1255.6 1278.6,1261.5 1279.1,1254.9 1279.6,1262.7 1280.0,1257.1 1280.5,1254.7 1281.0,1256.5 1281.5,1254.8 1281.9,1258.9 1282.4,1258.8 1282.9,1258.2 1283.4,1255.7 1283.8,1242.8 1284.3,1258.5 1284.8,1250.1 1285.3,1259.1 1285.7,1262.8 1286.2,1259.2 1286.7,1256.5 1287.2,1257.3 1287.6,1257.5 1288.1,1255.8 1288.6,1255.7 1289.1,1254.3 1289.5,1263.1 1290.0,1258.1 1290.5,1262.1 1291.0,1257.1 1291.4,1258.4 1291.9,1257.4 1292.4,1260.1 1292.9,1261.6 1293.3,1259.2 1293.8,1255.3 1294.3,1254.9 1294.8,1265.1 1295.2,1257.0 1295.7,1257.0 1296.2,1264.3 1296.7,1262.7 1297.1,1260.4 1297.6,1256.5 1298.1,1268.0 1298.6,1259.8 1299.0,1260.5 1299.5,1257.5 1300.0,1252.3 1300.5,1252.6 1300.9,1259.9 1301.4,1259.9 1301.9,1257.2 1302.4,1253.3 1302.9,1252.2 1303.3,1256.9 1303.8,1252.2 1304.3,1262.0 1304.8,1263.1 1305.2,1270.1 1305.7,1261.9 1306.2,1255.8 1306.7,1254.6 1307.1,1243.9 1307.6,1255.8 1308.1,1257.5 1308.6,1262.3 1309.0,1260.8 1309.5,1260.7 1310.0,1259.2 1310.5,1261.1 1310.9,1264.3 1311.4,1253.9 1311.9,1256.4 1312.4,1252.5 1312.8,1265.1 1313.3,1263.7 1313.8,1261.5 1314.3,1253.3 1314.7,1259.1 1315.2,1257.4 1315.7,1258.7 1316.2,1257.6 1316.6,1260.5 1317.1,1256.7 1317.6,1261.9 1318.1,1259.4 1318.5,1257.1 1319.0,1257.9 1319.5,1256.5 1320.0,1261.8 1320.4,1257.2 1320.9,1259.6 1321.4,1256.7 1321.9,1252.2 1322.3,1262.2 1322.8,1254.0 1323.3,1261.2 1323.8,1260.2 1324.2,1251.5 1324.7,1254.5 1325.2,1256.3 1325.7,1255.0 1326.1,1253.5 1326.6,1261.5 1327.1,1257.4 1327.6,1260.0 1328.0,1256.6 1328.5,1259.7 1329.0,1255.3 1329.5,1258.3 1330.0,1260.9 1330.4,1258.6 1330.9,1256.6 1331.4,1253.9 1331.9,1259.2 1332.3,1259.9 1332.8,1257.4 1333.3,1255.3 1333.8,1260.7 1334.2,1268.8 1334.7,1257.2 1335.2,1259.9 1335.7,1260.1 1336.1,1247.8 1336.6,1259.0 1337.1,1255.6 1337.6,1264.3 1338.0,1257.5 1338.5,1255.3 1339.0,1257.6 1339.5,1259.2 1339.9,1256.2 1340.4,1258.3 1340.9,1252.9 1341.4,1257.6 1341.8,1261.8 1342.3,1266.8 1342.8,1261.5 1343.3,1259.7 1343.7,1263.5 1344.2,1262.8 1344.7,1265.5 1345.2,1263.1 1345.6,1258.1 1346.1,1259.7 1346.6,1259.3 1347.1,1259.9 1347.5,1259.4 1348.0,1255.3 1348.5,1249.8 1349.0,1255.8 1349.4,1250.2 1349.9,1258.9 1350.4,1258.6 1350.9,1251.6 1351.3,1261.5 1351.8,1262.2 1352.3,1259.0 1352.8,1265.6 1353.2,1266.4 1353.7,1253.6 1354.2,1262.9 1354.7,1260.4 1355.2,1260.4 1355.6,1262.5 1356.1,1255.6 1356.6,1256.1 1357.1,1255.2 1357.5,1255.5 1358.0,1258.2 1358.5,1252.5 1359.0,1254.2 1359.4,1261.0 1359.9,1258.3 1360.4,1260.1 1360.9,1250.7 1361.3,1255.3 1361.8,1256.2 1362.3,1258.6 1362.8,1256.0 1363.2,1262.3 1363.7,1258.2 1364.2,1258.5 1364.7,1258.4 1365.1,1261.3 1365.6,1256.4 1366.1,1263.0 1366.6,1260.2 1367.0,1258.9 1367.5,1258.4 1368.0,1260.3 1368.5,1262.3 1368.9,1262.0 1369.4,1259.6 1369.9,1261.6 1370.4,1258.4 1370.8,1263.1 1371.3,1257.7 1371.8,1249.2 1372.3,1263.3 1372.7,1258.1 1373.2,1252.7 1373.7,1256.7 1374.2,1253.8 1374.6,1266.1 1375.1,1259.4 1375.6,1250.7 1376.1,1259.4 1376.5,1255.4 1377.0,1265.0 1377.5,1252.5 1378.0,1247.5 1378.4,1257.0 1378.9,1255.2 1379.4,1254.8 1379.9,1247.6 1380.3,1258.2 1380.8,1263.3 1381.3,1248.3 1381.8,1261.0 1382.3,1253.7 1382.7,1265.7 1383.2,1257.7 1383.7,1255.0 1384.2,1260.3 1384.6,1257.8 1385.1,1253.1 1385.6,1258.4 1386.1,1253.3 1386.5,1247.9 1387.0,1263.7 1387.5,1253.8 1388.0,1252.7 1388.4,1256.5 1388.9,1248.6 1389.4,1249.4 1389.9,1252.9 1390.3,1252.8 1390.8,1255.3 1391.3,1259.6 1391.8,1253.0 1392.2,1257.0 1392.7,1257.4 1393.2,1250.4 1393.7,1255.9 1394.1,1251.0 1394.6,1259.4 1395.1,1256.9 1395.6,1255.1 1396.0,1249.5 1396.5,1255.6 1397.0,1251.9 1397.5,1258.1 1397.9,1254.7 1398.4,1251.9 1398.9,1259.2 1399.4,1258.4 1399.8,1253.0 1400.3,1260.4 1400.8,1254.4 1401.3,1254.4 1401.7,1256.3 1402.2,1252.8 1402.7,1254.1 1403.2,1255.4 1403.6,1262.5 1404.1,1262.5 1404.6,1255.3 1405.1,1263.1 1405.5,1256.3 1406.0,1258.2 1406.5,1260.4 1407.0,1258.0 1407.4,1266.9 1407.9,1258.0 1408.4,1252.1 1408.9,1262.6 1409.4,1255.5 1409.8,1256.1 1410.3,1245.0 1410.8,1261.6 1411.3,1261.0 1411.7,1261.0 1412.2,1261.8 1412.7,1264.8 1413.2,1257.7 1413.6,1261.8 1414.1,1254.9 1414.6,1256.5 1415.1,1262.4 1415.5,1259.7 1416.0,1252.6 1416.5,1259.6 1417.0,1257.3 1417.4,1254.7 1417.9,1259.8 1418.4,1256.3 1418.9,1251.4 1419.3,1253.2 1419.8,1265.0 1420.3,1251.2 1420.8,1258.2 1421.2,1259.5 1421.7,1259.3 1422.2,1251.2 1422.7,1254.5 1423.1,1255.9 1423.6,1258.0 1424.1,1251.4 1424.6,1248.4 1425.0,1256.5 1425.5,1256.0 1426.0,1251.8 1426.5,1246.6 1426.9,1249.5 1427.4,1246.8 1427.9,1248.2 1428.4,1237.8 1428.8,1241.6 1429.3,1238.3 1429.8,1232.1 1430.3,1235.0 1430.7,1231.4 1431.2,1226.4 1431.7,1226.0 1432.2,1214.3 1432.6,1215.0 1433.1,1211.3 1433.6,1204.1 1434.1,1199.8 1434.5,1181.8 1435.0,1171.0 1435.5,1167.8 1436.0,1157.7 1436.5,1153.2 1436.9,1135.6 1437.4,1118.7 1437.9,1115.9 1438.4,1103.7 1438.8,1097.0 1439.3,1096.8 1439.8,1094.1 1440.3,1096.8 1440.7,1102.2 1441.2,1111.7 1441.7,1122.1 1442.2,1138.5 1442.6,1142.6 1443.1,1155.0 1443.6,1180.2 1444.1,1193.2 1444.5,1200.9 1445.0,1210.1 1445.5,1218.8 1446.0,1222.8 1446.4,1238.3 1446.9,1239.8 1447.4,1243.2 1447.9,1245.9 1448.3,1251.2 1448.8,1250.9 1449.3,1253.3 1449.8,1246.5 1450.2,1254.3 1450.7,1261.9 1451.2,1251.1 1451.7,1253.0 1452.1,1257.4 1452.6,1257.8 1453.1,1256.5 1453.6,1247.3 1454.0,1256.1 1454.5,1249.1 1455.0,1250.6 1455.5,1256.4 1455.9,1253.0 1456.4,1257.7 1456.9,1267.5 1457.4,1257.8 1457.8,1257.8 1458.3,1251.3 1458.8,1252.6 1459.3,1251.2 1459.7,1253.6 1460.2,1251.6 1460.7,1253.7 1461.2,1255.8 1461.6,1252.8 1462.1,1251.4 1462.6,1251.9 1463.1,1259.6 1463.6,1258.2 1464.0,1262.4 1464.5,1262.7 1465.0,1257.1 1465.5,1261.4 1465.9,1252.8 1466.4,1268.3 1466.9,1263.9 1467.4,1258.2 1467.8,1254.3 1468.3,1260.8 1468.8,1251.5 1469.3,1256.1 1469.7,1262.4 1470.2,1259.6 1470.7,1257.3 1471.2,1263.3 1471.6,1255.1 1472.1,1260.6 1472.6,1257.3 1473.1,1255.9 1473.5,1261.3 1474.0,1255.3 1474.5,1267.3 1475.0,1257.0 1475.4,1267.7 1475.9,1254.9 1476.4,1262.0 1476.9,1254.5 1477.3,1253.9 1477.8,1260.1 1478.3,1262.3 1478.8,1254.2 1479.2,1264.4 1479.7,1256.2 1480.2,1260.0 1480.7,1261.1 1481.1,1261.9 1481.6,1252.1 1482.1,1266.2 1482.6,1261.8 1483.0,1257.7 1483.5,1255.3 1484.0,1252.5 1484.5,1253.9 1484.9,1261.8 1485.4,1258.1 1485.9,1254.9 1486.4,1257.4 1486.8,1266.0 1487.3,1258.2 1487.8,1257.1 1488.3,1265.1 1488.8,1261.4 1489.2,1259.7 1489.7,1257.0 1490.2,1253.1 1490.7,1254.7 1491.1,1257.6 1491.6,1258.6 1492.1,1261.0 1492.6,1261.8 1493.0,1260.5 1493.5,1260.4 1494.0,1255.4 1494.5,1250.7 1494.9,1257.4 1495.4,1255.6 1495.9,1256.8 1496.4,1258.4 1496.8,1254.4 1497.3,1254.9 1497.8,1259.1 1498.3,1259.9 1498.7,1256.7 1499.2,1261.5 1499.7,1258.5 1500.2,1255.2 1500.6,1259.5 1501.1,1267.1 1501.6,1256.5 1502.1,1264.1 1502.5,1264.9 1503.0,1265.4 1503.5,1255.8 1504.0,1267.5 1504.4,1259.6 1504.9,1258.0 1505.4,1258.1 1505.9,1261.5 1506.3,1259.1 1506.8,1258.1 1507.3,1264.1 1507.8,1255.8 1508.2,1254.4 1508.7,1261.9 1509.2,1261.4 1509.7,1262.9 1510.1,1253.9 1510.6,1262.7 1511.1,1260.2 1511.6,1265.3 1512.0,1252.9 1512.5,1258.8 1513.0,1256.6 1513.5,1251.1 1513.9,1254.6 1514.4,1262.1 1514.9,1255.4 1515.4,1254.2 1515.9,1260.7 1516.3,1261.0 1516.8,1260.9 1517.3,1253.5 1517.8,1256.4 1518.2,1260.7 1518.7,1253.6 1519.2,1253.1 1519.7,1259.5 1520.1,1262.4 1520.6,1251.1 1521.1,1245.0 1521.6,1249.6 1522.0,1251.3 1522.5,1254.8 1523.0,1257.7 1523.5,1254.5 1523.9,1252.1 1524.4,1255.5 1524.9,1250.8 1525.4,1254.5 1525.8,1251.9 1526.3,1265.5 1526.8,1257.8 1527.3,1250.9 1527.7,1250.2 1528.2,1252.4 1528.7,1247.4 1529.2,1251.1 1529.6,1251.1 1530.1,1257.7 1530.6,1252.3 1531.1,1250.8 1531.5,1248.5 1532.0,1249.2 1532.5,1253.8 1533.0,1253.2 1533.4,1258.8 1533.9,1251.6 1534.4,1258.5 1534.9,1255.3 1535.3,1254.3 1535.8,1246.1 1536.3,1249.1 1536.8,1257.6 1537.2,1260.4 1537.7,1255.6 1538.2,1257.9 1538.7,1253.2 1539.1,1253.5 1539.6,1252.4 1540.1,1259.3 1540.6,1256.8 1541.0,1254.6 1541.5,1254.3 1542.0,1258.1 1542.5,1257.3 1543.0,1252.7 1543.4,1263.2 1543.9,1257.4 1544.4,1256.5 1544.9,1262.7 1545.3,1261.0 1545.8,1256.6 1546.3,1259.3 1546.8,1252.8 1547.2,1254.7 1547.7,1248.2 1548.2,1262.6 1548.7,1250.0 1549.1,1260.7 1549.6,1254.6 1550.1,1254.1 1550.6,1257.4 1551.0,1259.4 1551.5,1261.0 1552.0,1265.8 1552.5,1260.1 1552.9,1262.4 1553.4,1256.4 1553.9,1261.9 1554.4,1259.7 1554.8,1257.2 1555.3,1258.8 1555.8,1259.0 1556.3,1260.2 1556.7,1261.1 1557.2,1257.4 1557.7,1256.6 1558.2,1262.7 1558.6,1252.8 1559.1,1257.2 1559.6,1266.2 1560.1,1248.8 1560.5,1257.1 1561.0,1262.8 1561.5,1253.2 1562.0,1270.7 1562.4,1249.5 1562.9,1266.0 1563.4,1266.5 1563.9,1263.9 1564.3,1259.3 1564.8,1261.7 1565.3,1256.6 1565.8,1263.6 1566.2,1255.7 1566.7,1259.2 1567.2,1264.4 1567.7,1255.8 1568.1,1258.9 1568.6,1261.1 1569.1,1254.9 1569.6,1265.2 1570.1,1261.8 1570.5,1254.3 1571.0,1260.3 1571.5,1257.3 1572.0,1257.8 1572.4,1260.8 1572.9,1257.6 1573.4,1264.5 1573.9,1257.6 1574.3,1264.5 1574.8,1260.4 1575.3,1264.0 1575.8,1258.3 1576.2,1258.5 1576.7,1255.9 1577.2,1262.9 1577.7,1264.4 1578.1,1269.3 1578.6,1265.9 1579.1,1261.6 1579.6,1259.8 1580.0,1262.2 1580.5,1260.5 1581.0,1266.6 1581.5,1264.5 1581.9,1257.2 1582.4,1257.8 1582.9,1266.2 1583.4,1261.9 1583.8,1259.6 1584.3,1265.4 1584.8,1259.0 1585.3,1259.3 1585.7,1258.5 1586.2,1252.3 1586.7,1263.7 1587.2,1255.1 1587.6,1257.5 1588.1,1256.6 1588.6,1262.3 1589.1,1258.6 1589.5,1258.5 1590.0,1251.1 1590.5,1256.9 1591.0,1250.5 1591.4,1256.9 1591.9,1256.1 1592.4,1253.4 1592.9,1260.5 1593.3,1252.9 1593.8,1251.7 1594.3,1248.1 1594.8,1244.9 1595.2,1247.7 1595.7,1246.3 1596.2,1234.5 1596.7,1242.0 1597.2,1237.7 1597.6,1237.4 1598.1,1233.4 1598.6,1224.6 1599.1,1223.1 1599.5,1233.7 1600.0,1225.8 1600.5,1217.7 1601.0,1223.7 1601.4,1219.9 1601.9,1213.0 1602.4,1210.5 1602.9,1212.7 1603.3,1219.8 1603.8,1217.9 1604.3,1216.6 1604.8,1218.1 1605.2,1218.7 1605.7,1206.9 1606.2,1213.3 1606.7,1210.0 1607.1,1207.2 1607.6,1208.6 1608.1,1209.0 1608.6,1207.0 1609.0,1200.8 1609.5,1203.4 1610.0,1212.5 1610.5,1199.1 1610.9,1196.0 1611.4,1203.7 1611.9,1205.2 1612.4,1205.3 1612.8,1199.9 1613.3,1210.0 1613.8,1204.7 1614.3,1205.5 1614.7,1210.3 1615.2,1215.3 1615.7,1221.8 1616.2,1224.8 1616.6,1225.6 1617.1,1232.9 1617.6,1232.9 1618.1,1239.5 1618.5,1233.3 1619.0,1235.5 1619.5,1247.8 1620.0,1241.5 1620.4,1248.2 1620.9,1251.0 1621.4,1251.1 1621.9,1252.8 1622.4,1261.6 1622.8,1246.7 1623.3,1261.5 1623.8,1267.9 1624.3,1259.3 1624.7,1259.6 1625.2,1263.0 1625.7,1267.8 1626.2,1255.8 1626.6,1261.2 1627.1,1260.2 1627.6,1263.3 1628.1,1261.8 1628.5,1263.9 1629.0,1259.5 1629.5,1261.5 1630.0,1258.6 1630.4,1258.6 1630.9,1260.8 1631.4,1260.8 1631.9,1256.6 1632.3,1267.7 1632.8,1260.8 1633.3,1255.8 1633.8,1265.9 1634.2,1258.4 1634.7,1263.5 1635.2,1261.4 1635.7,1262.4 1636.1,1262.1 1636.6,1259.1 1637.1,1261.6 1637.6,1269.7 1638.0,1252.4 1638.5,1261.7 1639.0,1263.2 1639.5,1257.2 1639.9,1255.9 1640.4,1270.2 1640.9,1260.0 1641.4,1269.9 1641.8,1263.7 1642.3,1261.8 1642.8,1263.4 1643.3,1264.1 1643.7,1266.3 1644.2,1263.3 1644.7,1262.1 1645.2,1262.3 1645.6,1267.0 1646.1,1264.9 1646.6,1257.5 1647.1,1259.0 1647.5,1262.9 1648.0,1259.1 1648.5,1260.1 1649.0,1257.7 1649.5,1260.5 1649.9,1263.3 1650.4,1265.6 1650.9,1261.7 1651.4,1270.0 1651.8,1261.3 1652.3,1274.6 1652.8,1265.7 1653.3,1263.7 1653.7,1259.6 1654.2,1250.3 1654.7,1261.0 1655.2,1262.4 1655.6,1269.5 1656.1,1256.1 1656.6,1269.4 1657.1,1260.7 1657.5,1264.6 1658.0,1251.5 1658.5,1262.3 1659.0,1260.3 1659.4,1264.5 1659.9,1262.1 1660.4,1257.1 1660.9,1265.6 1661.3,1264.6 1661.8,1264.2 1662.3,1265.8 1662.8,1266.2 1663.2,1261.7 1663.7,1256.3 1664.2,1256.2 1664.7,1267.2 1665.1,1264.7 1665.6,1262.2 1666.1,1260.1 1666.6,1261.9 1667.0,1261.9 1667.5,1260.5 1668.0,1259.0 1668.5,1270.6 1668.9,1262.8 1669.4,1259.4 1669.9,1256.6 1670.4,1258.9 1670.8,1264.8 1671.3,1264.9 1671.8,1261.0 1672.3,1262.1 1672.7,1260.7 1673.2,1257.4 1673.7,1267.1 1674.2,1263.4 1674.6,1271.9 1675.1,1258.9 1675.6,1261.4 1676.1,1265.5 1676.6,1260.9 1677.0,1256.3 1677.5,1258.1 1678.0,1262.3 1678.5,1263.3 1678.9,1261.6 1679.4,1266.0 1679.9,1266.0 1680.4,1263.3 1680.8,1262.1 1681.3,1260.9 1681.8,1264.2 1682.3,1265.7 1682.7,1262.2 1683.2,1263.8 1683.7,1260.7 1684.2,1256.3 1684.6,1258.0 1685.1,1265.1 1685.6,1263.8 1686.1,1268.4 1686.5,1262.2 1687.0,1265.5 1687.5,1267.3 1688.0,1266.0 1688.4,1259.6 1688.9,1261.3 1689.4,1262.5 1689.9,1258.0 1690.3,1263.9 1690.8,1266.1 1691.3,1260.0 1691.8,1269.8 1692.2,1260.6 1692.7,1260.9 1693.2,1260.7 1693.7,1258.7 1694.1,1263.0 1694.6,1261.2 1695.1,1267.6 1695.6,1263.0 1696.0,1262.3 1696.5,1258.8 1697.0,1253.5 1697.5,1258.2 1697.9,1254.4 1698.4,1260.9 1698.9,1256.1 1699.4,1262.0 1699.8,1257.2 1700.3,1256.5 1700.8,1253.0 1701.3,1251.8 1701.7,1252.6 1702.2,1252.6 1702.7,1245.1 1703.2,1249.1 1703.7,1256.9 1704.1,1245.4 1704.6,1244.3 1705.1,1242.4 1705.6,1239.3 1706.0,1250.1 1706.5,1245.9 1707.0,1247.3 1707.5,1254.2 1707.9,1257.7 1708.4,1245.0 1708.9,1253.8 1709.4,1253.2 1709.8,1253.4 1710.3,1254.8 1710.8,1253.8 1711.3,1261.4 1711.7,1258.4 1712.2,1258.2 1712.7,1262.7 1713.2,1262.0 1713.6,1260.9 1714.1,1260.9 1714.6,1267.2 1715.1,1262.6 1715.5,1260.5 1716.0,1257.7 1716.5,1260.0 1717.0,1257.3 1717.4,1262.1 1717.9,1262.9 1718.4,1253.7 1718.9,1262.1 1719.3,1264.6 1719.8,1262.7 1720.3,1258.3 1720.8,1267.2 1721.2,1259.3 1721.7,1257.2 1722.2,1257.8 1722.7,1262.1 1723.1,1266.1 1723.6,1266.9 1724.1,1263.0 1724.6,1257.4 1725.0,1259.5 1725.5,1258.6 1726.0,1261.4 1726.5,1255.0 1726.9,1262.6 1727.4,1264.7 1727.9,1261.5 1728.4,1263.9 1728.8,1258.2 1729.3,1256.1 1729.8,1259.3 1730.3,1266.4 1730.8,1265.8 1731.2,1259.6 1731.7,1266.1 1732.2,1259.6 1732.7,1266.7 1733.1,1262.1 1733.6,1257.8 1734.1,1262.2 1734.6,1255.1 1735.0,1253.5 1735.5,1250.4 1736.0,1256.0 1736.5,1253.3 1736.9,1251.6 1737.4,1248.5 1737.9,1253.9 1738.4,1244.2 1738.8,1240.6 1739.3,1246.0 1739.8,1244.0 1740.3,1236.8 1740.7,1225.5 1741.2,1227.0 1741.7,1228.8 1742.2,1223.3 1742.6,1226.2 1743.1,1211.3 1743.6,1216.3 1744.1,1207.7 1744.5,1212.2 1745.0,1203.1 1745.5,1204.1 1746.0,1193.7 1746.4,1187.0 1746.9,1184.4 1747.4,1182.7 1747.9,1177.5 1748.3,1183.1 1748.8,1180.8 1749.3,1173.3 1749.8,1170.7 1750.2,1170.8 1750.7,1170.7 1751.2,1173.9 1751.7,1175.7 1752.1,1181.1 1752.6,1182.3 1753.1,1181.5 1753.6,1192.8 1754.0,1198.1 1754.5,1211.0 1755.0,1216.8 1755.5,1219.9 1756.0,1227.8 1756.4,1241.4 1756.9,1236.4 1757.4,1241.0 1757.9,1247.5 1758.3,1248.8 1758.8,1252.4 1759.3,1258.3 1759.8,1264.7 1760.2,1251.9 1760.7,1259.8 1761.2,1260.7 1761.7,1260.7 1762.1,1260.5 1762.6,1260.1 1763.1,1265.6 1763.6,1259.6 1764.0,1260.8 1764.5,1261.1 1765.0,1261.3 1765.5,1259.7 1765.9,1263.9 1766.4,1259.1 1766.9,1259.0 1767.4,1257.0 1767.8,1251.9 1768.3,1251.2 1768.8,1248.6 1769.3,1251.7 1769.7,1245.9 1770.2,1242.2 1770.7,1244.9 1771.2,1243.5 1771.6,1231.6 1772.1,1242.7 1772.6,1233.4 1773.1,1230.3 1773.5,1232.5 1774.0,1226.3 1774.5,1221.5 1775.0,1230.8 1775.4,1215.8 1775.9,1217.7 1776.4,1219.1 1776.9,1208.4 1777.3,1208.4 1777.8,1205.5 1778.3,1207.6 1778.8,1187.5 1779.2,1183.5 1779.7,1179.1 1780.2,1170.5 1780.7,1164.7 1781.1,1164.0 1781.6,1164.8 1782.1,1169.3 1782.6,1176.9 1783.1,1189.5 1783.5,1198.0 1784.0,1209.1 1784.5,1214.5 1785.0,1228.6 1785.4,1238.7 1785.9,1243.3 1786.4,1250.7 1786.9,1251.1 1787.3,1263.4 1787.8,1267.8 1788.3,1258.8 1788.8,1262.8 1789.2,1260.7 1789.7,1267.0 1790.2,1263.9 1790.7,1262.5 1791.1,1261.4 1791.6,1262.8 1792.1,1258.3 1792.6,1265.1 1793.0,1259.5 1793.5,1264.5 1794.0,1262.9 1794.5,1266.8 1794.9,1262.3 1795.4,1266.5 1795.9,1258.7 1796.4,1264.8 1796.8,1261.5 1797.3,1263.2 1797.8,1262.7 1798.3,1266.2 1798.7,1254.3 1799.2,1263.7 1799.7,1256.4 1800.2,1267.2 1800.6,1254.5 1801.1,1258.4 1801.6,1255.7 1802.1,1269.0 1802.5,1257.2 1803.0,1262.9 1803.5,1260.3 1804.0,1255.2 1804.4,1261.1 1804.9,1265.1 1805.4,1261.7 1805.9,1266.2 1806.3,1261.0 1806.8,1262.5 1807.3,1260.9 1807.8,1263.8 1808.2,1270.1 1808.7,1263.9 1809.2,1263.2 1809.7,1260.0 1810.2,1259.4 1810.6,1268.3 1811.1,1258.0 1811.6,1258.8 1812.1,1262.1 1812.5,1260.8 1813.0,1270.3 1813.5,1253.0 1814.0,1263.9 1814.4,1265.3 1814.9,1258.0 1815.4,1259.9 1815.9,1264.2 1816.3,1269.0 1816.8,1258.8 1817.3,1256.2 1817.8,1266.4 1818.2,1268.6 1818.7,1261.2 1819.2,1253.6 1819.7,1268.3 1820.1,1261.7 1820.6,1267.0 1821.1,1262.3 1821.6,1261.0 1822.0,1260.7 1822.5,1268.4 1823.0,1268.3 1823.5,1254.0 1823.9,1258.8 1824.4,1269.6 1824.9,1261.0 1825.4,1257.1 1825.8,1262.5 1826.3,1262.1 1826.8,1262.1 1827.3,1260.6 1827.7,1261.3 1828.2,1260.7 1828.7,1263.8 1829.2,1259.2 1829.6,1261.3 1830.1,1261.9 1830.6,1267.7 1831.1,1264.0 1831.5,1262.0 1832.0,1264.6 1832.5,1264.1 1833.0,1266.8 1833.4,1264.5 1833.9,1269.6 1834.4,1267.8 1834.9,1262.2 1835.3,1260.7 1835.8,1265.9 1836.3,1264.4 1836.8,1261.9 1837.3,1256.4 1837.7,1254.9 1838.2,1263.6 1838.7,1265.3 1839.2,1265.4 1839.6,1257.0 1840.1,1266.3 1840.6,1260.0 1841.1,1263.6 1841.5,1263.7 1842.0,1258.8 1842.5,1259.6 1843.0,1253.6 1843.4,1258.2 1843.9,1254.6 1844.4,1263.5 1844.9,1262.0 1845.3,1265.3 1845.8,1263.1 1846.3,1259.1 1846.8,1262.9 1847.2,1259.9 1847.7,1263.8 1848.2,1262.6 1848.7,1257.3 1849.1,1261.2 1849.6,1261.4 1850.1,1259.9 1850.6,1264.6 1851.0,1267.8 1851.5,1259.4 1852.0,1259.4 1852.5,1251.8 1852.9,1260.1 1853.4,1258.8 1853.9,1251.9 1854.4,1261.6 1854.8,1262.7 1855.3,1257.3 1855.8,1258.7 1856.3,1256.2 1856.7,1263.0 1857.2,1253.9 1857.7,1258.6 1858.2,1267.5 1858.6,1259.9 1859.1,1261.4 1859.6,1258.9 1860.1,1254.7 1860.5,1259.2 1861.0,1260.9 1861.5,1255.1 1862.0,1260.4 1862.4,1264.0 1862.9,1263.2 1863.4,1252.6 1863.9,1254.9 1864.4,1252.3 1864.8,1262.9 1865.3,1261.0 1865.8,1261.3 1866.3,1255.0 1866.7,1253.7 1867.2,1258.6 1867.7,1258.7 1868.2,1254.8 1868.6,1258.8 1869.1,1260.7 1869.6,1259.0 1870.1,1253.9 1870.5,1249.6 1871.0,1257.0 1871.5,1258.6 1872.0,1256.9 1872.4,1256.3 1872.9,1255.2 1873.4,1260.8 1873.9,1257.7 1874.3,1258.4 1874.8,1254.1 1875.3,1255.5 1875.8,1258.6 1876.2,1254.0 1876.7,1253.0 1877.2,1256.7 1877.7,1262.8 1878.1,1258.9 1878.6,1263.9 1879.1,1257.7 1879.6,1257.0 1880.0,1252.8 1880.5,1256.1 1881.0,1264.1 1881.5,1259.8 1881.9,1261.4 1882.4,1261.4 1882.9,1258.6 1883.4,1257.9 1883.8,1259.3 1884.3,1261.6 1884.8,1260.8 1885.3,1261.0 1885.7,1259.8 1886.2,1256.2 1886.7,1258.3 1887.2,1255.7 1887.6,1263.5 1888.1,1251.3 1888.6,1258.9 1889.1,1269.3 1889.6,1258.6 1890.0,1255.5 1890.5,1260.1 1891.0,1265.3 1891.5,1259.7 1891.9,1262.9 1892.4,1260.9 1892.9,1259.2 1893.4,1273.2 1893.8,1261.1 1894.3,1258.8 1894.8,1259.1 1895.3,1262.7 1895.7,1262.9 1896.2,1264.4 1896.7,1262.0 1897.2,1255.9 1897.6,1263.7 1898.1,1260.5 1898.6,1260.7 1899.1,1256.0 1899.5,1259.7 1900.0,1259.2 1900.5,1262.0 1901.0,1256.5 1901.4,1262.5 1901.9,1262.9 1902.4,1258.0 1902.9,1260.1 1903.3,1259.2 1903.8,1266.3 1904.3,1252.8 1904.8,1261.5 1905.2,1256.3 1905.7,1261.2 1906.2,1266.3 1906.7,1260.6 1907.1,1263.7 1907.6,1259.8 1908.1,1270.9 1908.6,1266.9 1909.0,1267.8 1909.5,1258.1 1910.0,1259.1 1910.5,1267.7 1910.9,1262.7 1911.4,1262.5 1911.9,1264.9 1912.4,1258.6 1912.8,1266.7 1913.3,1263.7 1913.8,1265.6 1914.3,1261.1 1914.7,1265.8 1915.2,1261.0 1915.7,1267.6 1916.2,1268.3 1916.7,1267.5 1917.1,1265.9 1917.6,1266.4 1918.1,1253.3 1918.6,1267.2 1919.0,1262.9 1919.5,1264.4 1920.0,1262.9 1920.5,1258.5 1920.9,1261.9 1921.4,1266.6 1921.9,1269.6 1922.4,1261.6 1922.8,1260.5 1923.3,1269.8 1923.8,1260.6 1924.3,1272.3 1924.7,1264.3 1925.2,1260.7 1925.7,1268.0 1926.2,1270.8 1926.6,1258.5 1927.1,1270.3 1927.6,1263.1 1928.1,1270.1 1928.5,1262.7 1929.0,1258.0 1929.5,1266.2 1930.0,1267.9 1930.4,1272.5 1930.9,1271.0 1931.4,1267.0 1931.9,1263.3 1932.3,1262.2 1932.8,1263.1 1933.3,1261.0 1933.8,1263.2 1934.2,1254.3 1934.7,1265.0 1935.2,1264.2 1935.7,1274.4 1936.1,1267.3 1936.6,1262.4 1937.1,1266.5 1937.6,1259.5 1938.0,1262.0 1938.5,1257.0 1939.0,1270.0 1939.5,1266.7 1939.9,1259.7 1940.4,1264.1 1940.9,1268.1 1941.4,1266.3 1941.8,1265.9 1942.3,1261.0 1942.8,1261.9 1943.3,1264.7 1943.8,1268.0 1944.2,1261.1 1944.7,1260.0 1945.2,1268.9 1945.7,1260.7 1946.1,1268.6 1946.6,1265.4 1947.1,1267.9 1947.6,1271.3 1948.0,1267.1 1948.5,1267.5 1949.0,1260.8 1949.5,1261.7 1949.9,1267.0 1950.4,1270.5 1950.9,1269.9 1951.4,1273.5 1951.8,1265.7 1952.3,1265.2 1952.8,1268.4 1953.3,1264.5 1953.7,1264.2 1954.2,1260.3 1954.7,1268.3 1955.2,1260.2 1955.6,1266.5 1956.1,1258.9 1956.6,1268.8 1957.1,1260.4 1957.5,1267.8 1958.0,1258.2 1958.5,1262.7 1959.0,1269.1 1959.4,1261.3 1959.9,1264.7 1960.4,1262.5 1960.9,1255.3 1961.3,1265.6 1961.8,1266.1 1962.3,1260.0 1962.8,1266.6 1963.2,1261.2 1963.7,1260.3 1964.2,1264.3 1964.7,1261.6 1965.1,1273.2 1965.6,1258.1 1966.1,1267.0 1966.6,1268.0 1967.0,1256.3 1967.5,1257.2 1968.0,1266.1 1968.5,1262.0 1968.9,1265.3 1969.4,1268.2 1969.9,1262.2 1970.4,1259.4 1970.9,1252.8 1971.3,1264.2 1971.8,1259.7 1972.3,1264.4 1972.8,1264.0 1973.2,1257.5 1973.7,1269.6 1974.2,1267.0 1974.7,1265.9 1975.1,1257.8 1975.6,1260.7 1976.1,1260.0 1976.6,1260.4 1977.0,1257.5 1977.5,1263.4 1978.0,1262.4 1978.5,1262.8 1978.9,1259.2 1979.4,1266.1 1979.9,1261.6 1980.4,1249.9 1980.8,1258.0 1981.3,1260.1 1981.8,1263.9 1982.3,1258.8 1982.7,1258.8 1983.2,1257.0 1983.7,1262.0 1984.2,1257.5 1984.6,1256.7 1985.1,1256.0 1985.6,1260.9 1986.1,1256.5 1986.5,1251.9 1987.0,1260.7 1987.5,1255.4 1988.0,1259.4 1988.4,1259.3 1988.9,1262.4 1989.4,1261.6 1989.9,1255.1 1990.3,1256.5 1990.8,1251.9 1991.3,1263.3 1991.8,1258.2 1992.2,1261.7 1992.7,1254.8 1993.2,1247.7 1993.7,1261.5 1994.1,1255.5 1994.6,1255.4 1995.1,1254.8 1995.6,1256.8 1996.1,1256.1 1996.5,1247.6 1997.0,1257.9 1997.5,1251.4 1998.0,1251.5 1998.4,1260.0 1998.9,1256.8 1999.4,1252.0 1999.9,1246.1 2000.3,1254.2 2000.8,1256.0 2001.3,1254.0 2001.8,1250.0 2002.2,1252.4 2002.7,1251.2 2003.2,1257.6 2003.7,1260.7 2004.1,1262.2 2004.6,1256.0 2005.1,1260.4 2005.6,1262.2 2006.0,1258.5 2006.5,1260.4 2007.0,1269.7 2007.5,1262.5 2007.9,1265.5 2008.4,1260.6 2008.9,1262.7 2009.4,1256.0 2009.8,1262.8 2010.3,1267.7 2010.8,1271.4 2011.3,1268.0 2011.7,1266.2 2012.2,1263.8 2012.7,1261.4 2013.2,1263.2 2013.6,1266.3 2014.1,1260.9 2014.6,1267.7 2015.1,1260.3 2015.5,1257.3 2016.0,1260.4 2016.5,1257.9 2017.0,1259.1 2017.4,1268.9 2017.9,1263.8 2018.4,1265.4 2018.9,1269.1 2019.3,1269.6 2019.8,1262.7 2020.3,1269.9 2020.8,1266.3 2021.2,1264.8 2021.7,1266.6 2022.2,1259.3 2022.7,1261.8 2023.2,1264.5 2023.6,1267.3 2024.1,1263.5 2024.6,1264.5 2025.1,1268.8 2025.5,1270.5 2026.0,1268.0 2026.5,1270.0 2027.0,1263.5 2027.4,1263.8 2027.9,1266.3 2028.4,1263.9 2028.9,1263.1 2029.3,1271.5 2029.8,1264.3 2030.3,1261.3 2030.8,1267.0 2031.2,1272.3 2031.7,1265.4 2032.2,1269.9 2032.7,1263.4 2033.1,1263.2 2033.6,1262.5 2034.1,1264.6 2034.6,1272.3 2035.0,1260.7 2035.5,1271.6 2036.0,1261.3 2036.5,1264.3 2036.9,1268.5 2037.4,1267.7 2037.9,1266.3 2038.4,1258.8 2038.8,1266.7 2039.3,1261.3 2039.8,1275.3 2040.3,1264.4 2040.7,1266.0 2041.2,1260.8 2041.7,1263.4 2042.2,1260.3 2042.6,1269.1 2043.1,1264.3 2043.6,1267.5 2044.1,1262.7 2044.5,1263.4 2045.0,1270.4 2045.5,1261.6 2046.0,1258.3 2046.4,1266.9 2046.9,1260.9 2047.4,1263.7 2047.9,1268.9 2048.3,1262.2 2048.8,1268.8 2049.3,1262.7 2049.8,1271.2 2050.3,1270.6 2050.7,1263.6 2051.2,1264.6 2051.7,1262.2 2052.2,1266.2 2052.6,1269.9 2053.1,1259.8 2053.6,1269.0 2054.1,1260.3 2054.5,1262.1 2055.0,1258.5 2055.5,1273.6 2056.0,1265.7 2056.4,1266.4 2056.9,1262.8 2057.4,1269.6 2057.9,1257.3 2058.3,1265.6 2058.8,1274.1 2059.3,1264.0 2059.8,1265.6 2060.2,1268.1 2060.7,1262.3 2061.2,1265.6 2061.7,1269.2 2062.1,1266.3 2062.6,1266.9 2063.1,1264.1 2063.6,1266.7 2064.0,1265.7 2064.5,1271.2 2065.0,1268.3 2065.5,1264.6 2065.9,1256.0 2066.4,1268.3 2066.9,1268.4 2067.4,1261.9 2067.8,1257.7 2068.3,1261.1 2068.8,1269.1 2069.3,1261.4 2069.7,1263.7 2070.2,1266.4 2070.7,1270.3 2071.2,1265.4 2071.6,1265.1 2072.1,1263.4 2072.6,1271.8 2073.1,1269.6 2073.5,1265.1 2074.0,1260.1 2074.5,1262.4 2075.0,1267.8 2075.4,1262.7 2075.9,1269.0 2076.4,1266.9 2076.9,1266.6 2077.4,1268.0 2077.8,1267.4 2078.3,1262.2 2078.8,1264.2 2079.3,1274.6 2079.7,1260.8 2080.2,1263.7 2080.7,1269.6 2081.2,1264.9 2081.6,1262.3 2082.1,1260.4 2082.6,1267.6 2083.1,1269.5 2083.5,1270.9 2084.0,1265.7 2084.5,1269.6 2085.0,1261.5 2085.4,1266.2 2085.9,1262.9 2086.4,1266.2 2086.9,1268.4" fill="none" stroke="#000" stroke-width="2.4" stroke-linejoin="round"/></g>
<g fill="none" stroke="#000">
<path d="M185.08 1479.8V51.300000000000004M2086.86 1479.8V51.300000000000004" stroke-width="5.8"/>
<path d="M185.08 54.45H2086.86" stroke-width="6.3"/>
<path d="M185.08 1299.05H2086.86" stroke-width="6.2"/>
<path d="M185.08 1451.8H2086.86" stroke-width="6.4"/>
<path d="M185.08 1451.8V1479.8M304.24 1451.8V1465.8M423.10 1451.8V1479.8M541.96 1451.8V1465.8M660.83 1451.8V1479.8M779.69 1451.8V1465.8M898.55 1451.8V1479.8M1017.41 1451.8V1465.8M1136.27 1451.8V1479.8M1255.13 1451.8V1465.8M1373.99 1451.8V1479.8M1492.85 1451.8V1465.8M1611.72 1451.8V1479.8M1730.58 1451.8V1465.8M1849.44 1451.8V1479.8M1968.30 1451.8V1465.8M2086.86 1451.8V1479.8" stroke-width="5.8"/>
</g>
<path d="M392.4 1346.8V1452.0M421.8 1346.8V1452.0M472.3 1346.8V1452.0M601.7 1346.8V1452.0M778.9 1340.3V1452.0M849.2 1339.4V1452.0M897.1 1313.8V1452.0M912.3 1346.6V1452.0M975.7 1346.6V1452.0M1018.4 1346.5V1452.0M1139.9 1346.6V1452.0M1196.4 1341.9V1452.0M1246.0 1346.6V1452.0M1297.2 1347.3V1452.0M1332.0 1346.6V1452.0M1335.0 1346.6V1452.0M1437.8 1342.3V1452.0M1517.0 1347.0V1452.0M1573.9 1347.0V1452.0M1608.6 1343.3V1452.0M1613.9 1345.3V1452.0M1694.9 1347.0V1452.0M1702.8 1347.0V1452.0M1746.0 1343.6V1452.0M1777.0 1344.5V1452.0M1860.2 1347.0V1452.0M1875.4 1347.0V1452.0M1933.1 1347.0V1452.0M1945.2 1347.0V1452.0M1951.3 1347.0V1452.0M1957.2 1347.0V1452.0M1995.7 1347.0V1452.0M2035.6 1347.0V1452.0M2077.4 1347.0V1452.0" stroke="#ff0000" stroke-width="3.7" stroke-linecap="round" fill="none"/>
<path d="M548.3 1324.3V1452.0M826.0 1354.6V1452.0M846.0 1351.2V1452.0M864.7 1354.6V1452.0M1089.6 1345.6V1452.0M1229.0 1351.2V1452.0M1256.3 1351.2V1452.0M1424.4 1356.2V1452.0M1437.0 1353.8V1452.0M1582.0 1356.2V1452.0M1619.0 1356.2V1452.0M1707.6 1357.1V1452.0M1730.9 1354.6V1452.0M1754.8 1356.6V1452.0M1866.8 1357.1V1452.0M1900.3 1357.1V1452.0M1912.4 1356.2V1452.0M1924.3 1356.2V1452.0" stroke="#0000ff" stroke-width="3.7" stroke-linecap="round" fill="none"/>
<path d="M600.4 1315.4V1452.0M805.1 1338.6V1452.0M880.0 1345.0V1452.0M928.1 1345.0V1452.0M995.6 1346.0V1452.0M1239.6 1334.9V1452.0M1295.2 1346.0V1452.0M1439.0 1347.3V1452.0M1471.6 1347.0V1452.0M1505.9 1348.8V1452.0M1589.0 1343.6V1452.0M1606.7 1346.0V1452.0M1670.0 1348.5V1452.0M1717.9 1348.5V1452.0M1766.9 1348.5V1452.0M1845.1 1348.5V1452.0M1905.8 1347.3V1452.0M1952.1 1348.5V1452.0M2029.2 1348.5V1452.0M2076.4 1348.5V1452.0" stroke="#008000" stroke-width="3.7" stroke-linecap="round" fill="none"/>
<line x1="1254.6" y1="115.6" x2="1351.2" y2="115.6" stroke="#000" stroke-width="2.1"/>
<g font-size="42.8">
<text transform="translate(1362.6,130.2) scale(1,1.035)">T3D_240V-50Hz-E1S</text>
<text transform="translate(1362.6,182.2) scale(1,1.035)" style="fill:#008000">t-TiO2 (83-2242)</text>
<text transform="translate(1362.6,234.4) scale(1,1.035)" style="fill:#0000ff">TiO2-Anatase (21-1272)</text>
<text transform="translate(1362.0,286.3) scale(1,1.035)" style="fill:#ff0000">h-Ti6O (72-1807)</text>
</g>
<g font-size="53"><text transform="translate(185.7,1539.2) scale(1,1.035)" text-anchor="middle">10</text><text transform="translate(423.4,1539.2) scale(1,1.035)" text-anchor="middle">20</text><text transform="translate(661.1,1539.2) scale(1,1.035)" text-anchor="middle">30</text><text transform="translate(898.8,1539.2) scale(1,1.035)" text-anchor="middle">40</text><text transform="translate(1136.6,1539.2) scale(1,1.035)" text-anchor="middle">50</text><text transform="translate(1374.3,1539.2) scale(1,1.035)" text-anchor="middle">60</text><text transform="translate(1612.0,1539.2) scale(1,1.035)" text-anchor="middle">70</text><text transform="translate(1849.7,1539.2) scale(1,1.035)" text-anchor="middle">80</text><text transform="translate(2087.5,1539.2) scale(1,1.035)" text-anchor="middle">90</text></g>
<text y="1641.4" font-size="59.4" xml:space="preserve"><tspan x="977.0">2</tspan> <tspan class="ser" x="1025.7" textLength="32.8" lengthAdjust="spacingAndGlyphs">θ</tspan> <tspan class="ser" x="1073.6">(</tspan><tspan x="1091.8">degree</tspan><tspan class="ser" x="1275.4">)</tspan></text>
<text transform="translate(123.75,748) rotate(-90)" font-size="59.3" text-anchor="middle">Intensity (a.u.)</text>
</svg>
</body></html>
